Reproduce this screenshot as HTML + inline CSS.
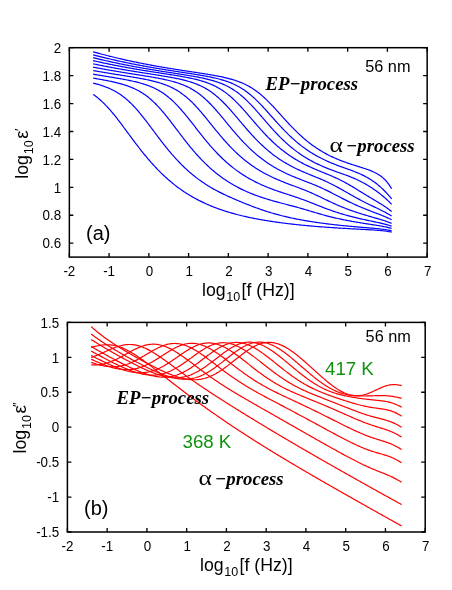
<!DOCTYPE html>
<html><head><meta charset="utf-8"><title>fig</title>
<style>
html,body{margin:0;padding:0;background:#fff;}
svg{display:block}
.tx{filter:opacity(1)}
text{font-family:"Liberation Sans",sans-serif;fill:#000}
.t{font-size:14.4px}
.l{font-size:16px}
.s{font-size:12.8px}
.bi{font-family:"Liberation Serif",serif;font-weight:bold;font-style:italic;font-size:18.75px}
.al{font-family:"Liberation Serif",serif;font-size:20px}
.g{fill:#109410;font-size:18.7px}
.ca{fill:none;stroke:#0000ff;stroke-width:1.2}
.cb{fill:none;stroke:#ff0000;stroke-width:1.2}
</style></head><body>
<svg width="452" height="590" viewBox="0 0 452 590">
<rect width="452" height="590" fill="#fff"/>
<g class="ca"><path d="M93.10,51.80 L94.10,52.08 L95.10,52.36 L96.09,52.63 L97.09,52.90 L98.09,53.18 L99.09,53.45 L100.09,53.71 L101.09,53.98 L102.09,54.24 L103.08,54.51 L104.08,54.77 L105.08,55.03 L106.08,55.28 L107.08,55.54 L108.08,55.79 L109.08,56.05 L110.07,56.30 L111.07,56.54 L112.07,56.79 L113.07,57.04 L114.07,57.28 L115.07,57.52 L116.06,57.76 L117.06,58.00 L118.06,58.24 L119.06,58.47 L120.06,58.70 L121.06,58.94 L122.06,59.16 L123.05,59.39 L124.05,59.62 L125.05,59.84 L126.05,60.07 L127.05,60.29 L128.05,60.51 L129.05,60.73 L130.04,60.94 L131.04,61.16 L132.04,61.37 L133.04,61.58 L134.04,61.80 L135.04,62.00 L136.03,62.21 L137.03,62.42 L138.03,62.62 L139.03,62.82 L140.03,63.03 L141.03,63.23 L142.03,63.42 L143.02,63.62 L144.02,63.82 L145.02,64.01 L146.02,64.20 L147.02,64.39 L148.02,64.58 L149.02,64.77 L150.01,64.96 L151.01,65.15 L152.01,65.33 L153.01,65.51 L154.01,65.69 L155.01,65.87 L156.00,66.05 L157.00,66.23 L158.00,66.41 L159.00,66.58 L160.00,66.76 L161.00,66.93 L162.00,67.10 L162.99,67.27 L163.99,67.44 L164.99,67.61 L165.99,67.78 L166.99,67.95 L167.99,68.11 L168.98,68.28 L169.98,68.44 L170.98,68.60 L171.98,68.76 L172.98,68.92 L173.98,69.08 L174.98,69.24 L175.97,69.40 L176.97,69.56 L177.97,69.71 L178.97,69.87 L179.97,70.03 L180.97,70.18 L181.97,70.33 L182.96,70.49 L183.96,70.64 L184.96,70.79 L185.96,70.95 L186.96,71.10 L187.96,71.25 L188.95,71.40 L189.95,71.55 L190.95,71.70 L191.95,71.85 L192.95,72.01 L193.95,72.16 L194.95,72.31 L195.94,72.46 L196.94,72.61 L197.94,72.76 L198.94,72.92 L199.94,73.07 L200.94,73.23 L201.94,73.38 L202.93,73.54 L203.93,73.69 L204.93,73.85 L205.93,74.01 L206.93,74.17 L207.93,74.34 L208.92,74.50 L209.92,74.67 L210.92,74.84 L211.92,75.01 L212.92,75.19 L213.92,75.36 L214.92,75.54 L215.91,75.73 L216.91,75.91 L217.91,76.11 L218.91,76.30 L219.91,76.50 L220.91,76.70 L221.91,76.91 L222.90,77.13 L223.90,77.35 L224.90,77.58 L225.90,77.81 L226.90,78.05 L227.90,78.30 L228.89,78.56 L229.89,78.82 L230.89,79.10 L231.89,79.38 L232.89,79.68 L233.89,79.98 L234.89,80.30 L235.88,80.63 L236.88,80.97 L237.88,81.32 L238.88,81.69 L239.88,82.08 L240.88,82.47 L241.88,82.89 L242.87,83.32 L243.87,83.77 L244.87,84.24 L245.87,84.73 L246.87,85.23 L247.87,85.76 L248.86,86.31 L249.86,86.87 L250.86,87.47 L251.86,88.08 L252.86,88.72 L253.86,89.38 L254.86,90.06 L255.85,90.77 L256.85,91.50 L257.85,92.25 L258.85,93.03 L259.85,93.84 L260.85,94.66 L261.85,95.51 L262.84,96.39 L263.84,97.28 L264.84,98.20 L265.84,99.14 L266.84,100.10 L267.84,101.08 L268.83,102.07 L269.83,103.09 L270.83,104.11 L271.83,105.16 L272.83,106.21 L273.83,107.28 L274.83,108.36 L275.82,109.45 L276.82,110.54 L277.82,111.64 L278.82,112.74 L279.82,113.85 L280.82,114.96 L281.82,116.07 L282.81,117.18 L283.81,118.28 L284.81,119.38 L285.81,120.48 L286.81,121.57 L287.81,122.65 L288.80,123.72 L289.80,124.79 L290.80,125.84 L291.80,126.88 L292.80,127.91 L293.80,128.93 L294.80,129.94 L295.79,130.93 L296.79,131.91 L297.79,132.87 L298.79,133.82 L299.79,134.75 L300.79,135.67 L301.79,136.57 L302.78,137.46 L303.78,138.33 L304.78,139.19 L305.78,140.02 L306.78,140.85 L307.78,141.65 L308.77,142.44 L309.77,143.22 L310.77,143.98 L311.77,144.72 L312.77,145.45 L313.77,146.16 L314.77,146.86 L315.76,147.54 L316.76,148.21 L317.76,148.86 L318.76,149.50 L319.76,150.13 L320.76,150.74 L321.76,151.34 L322.75,151.93 L323.75,152.50 L324.75,153.06 L325.75,153.61 L326.75,154.14 L327.75,154.66 L328.74,155.18 L329.74,155.68 L330.74,156.17 L331.74,156.65 L332.74,157.11 L333.74,157.57 L334.74,158.02 L335.73,158.46 L336.73,158.89 L337.73,159.31 L338.73,159.72 L339.73,160.12 L340.73,160.52 L341.73,160.90 L342.72,161.28 L343.72,161.66 L344.72,162.02 L345.72,162.38 L346.72,162.73 L347.72,163.08 L348.71,163.42 L349.71,163.75 L350.71,164.09 L351.71,164.41 L352.71,164.73 L353.71,165.05 L354.71,165.37 L355.70,165.68 L356.70,166.00 L357.70,166.31 L358.70,166.62 L359.70,166.93 L360.70,167.24 L361.70,167.56 L362.69,167.88 L363.69,168.20 L364.69,168.53 L365.69,168.86 L366.69,169.20 L367.69,169.55 L368.68,169.92 L369.68,170.29 L370.68,170.68 L371.68,171.09 L372.68,171.52 L373.68,171.97 L374.68,172.44 L375.67,172.95 L376.67,173.48 L377.67,174.05 L378.67,174.66 L379.67,175.32 L380.67,176.02 L381.67,176.78 L382.66,177.60 L383.66,178.48 L384.66,179.44 L385.66,180.48 L386.66,181.60 L387.66,182.81 L388.65,184.12 L389.65,185.55 L390.65,187.09 L391.65,188.75"/>
<path d="M93.10,54.79 L94.10,55.05 L95.10,55.32 L96.09,55.58 L97.09,55.83 L98.09,56.09 L99.09,56.34 L100.09,56.60 L101.09,56.85 L102.09,57.09 L103.08,57.34 L104.08,57.59 L105.08,57.83 L106.08,58.07 L107.08,58.31 L108.08,58.55 L109.08,58.79 L110.07,59.02 L111.07,59.26 L112.07,59.49 L113.07,59.72 L114.07,59.95 L115.07,60.17 L116.06,60.40 L117.06,60.62 L118.06,60.84 L119.06,61.06 L120.06,61.28 L121.06,61.50 L122.06,61.72 L123.05,61.93 L124.05,62.14 L125.05,62.35 L126.05,62.56 L127.05,62.77 L128.05,62.98 L129.05,63.18 L130.04,63.38 L131.04,63.59 L132.04,63.79 L133.04,63.98 L134.04,64.18 L135.04,64.38 L136.03,64.57 L137.03,64.76 L138.03,64.96 L139.03,65.15 L140.03,65.34 L141.03,65.52 L142.03,65.71 L143.02,65.89 L144.02,66.08 L145.02,66.26 L146.02,66.44 L147.02,66.62 L148.02,66.80 L149.02,66.98 L150.01,67.15 L151.01,67.33 L152.01,67.50 L153.01,67.67 L154.01,67.84 L155.01,68.01 L156.00,68.18 L157.00,68.35 L158.00,68.52 L159.00,68.68 L160.00,68.85 L161.00,69.01 L162.00,69.17 L162.99,69.34 L163.99,69.50 L164.99,69.66 L165.99,69.82 L166.99,69.98 L167.99,70.14 L168.98,70.29 L169.98,70.45 L170.98,70.61 L171.98,70.76 L172.98,70.92 L173.98,71.07 L174.98,71.22 L175.97,71.38 L176.97,71.53 L177.97,71.68 L178.97,71.84 L179.97,71.99 L180.97,72.14 L181.97,72.29 L182.96,72.45 L183.96,72.60 L184.96,72.75 L185.96,72.90 L186.96,73.06 L187.96,73.21 L188.95,73.36 L189.95,73.52 L190.95,73.67 L191.95,73.83 L192.95,73.99 L193.95,74.15 L194.95,74.31 L195.94,74.47 L196.94,74.63 L197.94,74.79 L198.94,74.96 L199.94,75.13 L200.94,75.30 L201.94,75.47 L202.93,75.64 L203.93,75.82 L204.93,76.00 L205.93,76.19 L206.93,76.38 L207.93,76.57 L208.92,76.76 L209.92,76.96 L210.92,77.17 L211.92,77.38 L212.92,77.59 L213.92,77.81 L214.92,78.04 L215.91,78.28 L216.91,78.52 L217.91,78.76 L218.91,79.02 L219.91,79.29 L220.91,79.56 L221.91,79.84 L222.90,80.14 L223.90,80.44 L224.90,80.76 L225.90,81.09 L226.90,81.43 L227.90,81.78 L228.89,82.15 L229.89,82.53 L230.89,82.93 L231.89,83.34 L232.89,83.77 L233.89,84.22 L234.89,84.69 L235.88,85.18 L236.88,85.68 L237.88,86.21 L238.88,86.75 L239.88,87.32 L240.88,87.91 L241.88,88.52 L242.87,89.16 L243.87,89.82 L244.87,90.50 L245.87,91.21 L246.87,91.94 L247.87,92.70 L248.86,93.48 L249.86,94.29 L250.86,95.12 L251.86,95.97 L252.86,96.85 L253.86,97.75 L254.86,98.67 L255.85,99.62 L256.85,100.58 L257.85,101.57 L258.85,102.57 L259.85,103.59 L260.85,104.63 L261.85,105.68 L262.84,106.75 L263.84,107.83 L264.84,108.92 L265.84,110.02 L266.84,111.13 L267.84,112.24 L268.83,113.36 L269.83,114.49 L270.83,115.61 L271.83,116.74 L272.83,117.87 L273.83,118.99 L274.83,120.11 L275.82,121.23 L276.82,122.34 L277.82,123.45 L278.82,124.54 L279.82,125.63 L280.82,126.71 L281.82,127.78 L282.81,128.83 L283.81,129.88 L284.81,130.91 L285.81,131.93 L286.81,132.93 L287.81,133.92 L288.80,134.90 L289.80,135.86 L290.80,136.80 L291.80,137.73 L292.80,138.64 L293.80,139.54 L294.80,140.42 L295.79,141.29 L296.79,142.14 L297.79,142.97 L298.79,143.79 L299.79,144.59 L300.79,145.37 L301.79,146.14 L302.78,146.90 L303.78,147.64 L304.78,148.36 L305.78,149.07 L306.78,149.76 L307.78,150.44 L308.77,151.11 L309.77,151.76 L310.77,152.40 L311.77,153.02 L312.77,153.63 L313.77,154.23 L314.77,154.81 L315.76,155.39 L316.76,155.95 L317.76,156.49 L318.76,157.03 L319.76,157.56 L320.76,158.07 L321.76,158.58 L322.75,159.07 L323.75,159.55 L324.75,160.03 L325.75,160.49 L326.75,160.95 L327.75,161.39 L328.74,161.83 L329.74,162.26 L330.74,162.68 L331.74,163.10 L332.74,163.51 L333.74,163.91 L334.74,164.30 L335.73,164.69 L336.73,165.08 L337.73,165.46 L338.73,165.83 L339.73,166.20 L340.73,166.57 L341.73,166.93 L342.72,167.30 L343.72,167.66 L344.72,168.02 L345.72,168.37 L346.72,168.73 L347.72,169.09 L348.71,169.45 L349.71,169.81 L350.71,170.18 L351.71,170.55 L352.71,170.92 L353.71,171.30 L354.71,171.69 L355.70,172.09 L356.70,172.49 L357.70,172.90 L358.70,173.32 L359.70,173.76 L360.70,174.21 L361.70,174.67 L362.69,175.14 L363.69,175.64 L364.69,176.14 L365.69,176.67 L366.69,177.22 L367.69,177.78 L368.68,178.36 L369.68,178.97 L370.68,179.59 L371.68,180.24 L372.68,180.92 L373.68,181.61 L374.68,182.33 L375.67,183.07 L376.67,183.84 L377.67,184.63 L378.67,185.45 L379.67,186.30 L380.67,187.17 L381.67,188.08 L382.66,189.01 L383.66,189.97 L384.66,190.97 L385.66,191.99 L386.66,193.06 L387.66,194.16 L388.65,195.30 L389.65,196.48 L390.65,197.71 L391.65,198.99"/>
<path d="M93.10,57.63 L94.10,57.88 L95.10,58.13 L96.09,58.37 L97.09,58.62 L98.09,58.86 L99.09,59.10 L100.09,59.34 L101.09,59.58 L102.09,59.82 L103.08,60.05 L104.08,60.28 L105.08,60.51 L106.08,60.74 L107.08,60.97 L108.08,61.20 L109.08,61.42 L110.07,61.65 L111.07,61.87 L112.07,62.09 L113.07,62.30 L114.07,62.52 L115.07,62.74 L116.06,62.95 L117.06,63.16 L118.06,63.37 L119.06,63.58 L120.06,63.79 L121.06,63.99 L122.06,64.20 L123.05,64.40 L124.05,64.60 L125.05,64.80 L126.05,65.00 L127.05,65.20 L128.05,65.39 L129.05,65.59 L130.04,65.78 L131.04,65.97 L132.04,66.16 L133.04,66.35 L134.04,66.54 L135.04,66.72 L136.03,66.91 L137.03,67.09 L138.03,67.27 L139.03,67.45 L140.03,67.63 L141.03,67.81 L142.03,67.99 L143.02,68.16 L144.02,68.34 L145.02,68.51 L146.02,68.68 L147.02,68.85 L148.02,69.02 L149.02,69.19 L150.01,69.36 L151.01,69.53 L152.01,69.69 L153.01,69.86 L154.01,70.02 L155.01,70.19 L156.00,70.35 L157.00,70.51 L158.00,70.67 L159.00,70.83 L160.00,70.99 L161.00,71.15 L162.00,71.31 L162.99,71.47 L163.99,71.62 L164.99,71.78 L165.99,71.94 L166.99,72.09 L167.99,72.25 L168.98,72.40 L169.98,72.56 L170.98,72.71 L171.98,72.86 L172.98,73.02 L173.98,73.17 L174.98,73.33 L175.97,73.48 L176.97,73.64 L177.97,73.79 L178.97,73.95 L179.97,74.10 L180.97,74.26 L181.97,74.42 L182.96,74.57 L183.96,74.73 L184.96,74.89 L185.96,75.06 L186.96,75.22 L187.96,75.38 L188.95,75.55 L189.95,75.72 L190.95,75.89 L191.95,76.06 L192.95,76.23 L193.95,76.41 L194.95,76.59 L195.94,76.77 L196.94,76.96 L197.94,77.15 L198.94,77.34 L199.94,77.54 L200.94,77.74 L201.94,77.94 L202.93,78.16 L203.93,78.37 L204.93,78.60 L205.93,78.83 L206.93,79.06 L207.93,79.30 L208.92,79.55 L209.92,79.81 L210.92,80.08 L211.92,80.36 L212.92,80.64 L213.92,80.94 L214.92,81.24 L215.91,81.56 L216.91,81.89 L217.91,82.23 L218.91,82.59 L219.91,82.96 L220.91,83.34 L221.91,83.74 L222.90,84.16 L223.90,84.59 L224.90,85.05 L225.90,85.51 L226.90,86.00 L227.90,86.51 L228.89,87.04 L229.89,87.59 L230.89,88.16 L231.89,88.76 L232.89,89.38 L233.89,90.02 L234.89,90.68 L235.88,91.37 L236.88,92.09 L237.88,92.83 L238.88,93.59 L239.88,94.38 L240.88,95.20 L241.88,96.03 L242.87,96.90 L243.87,97.79 L244.87,98.70 L245.87,99.63 L246.87,100.59 L247.87,101.57 L248.86,102.57 L249.86,103.59 L250.86,104.63 L251.86,105.69 L252.86,106.76 L253.86,107.85 L254.86,108.95 L255.85,110.06 L256.85,111.19 L257.85,112.32 L258.85,113.46 L259.85,114.61 L260.85,115.76 L261.85,116.91 L262.84,118.07 L263.84,119.23 L264.84,120.38 L265.84,121.54 L266.84,122.69 L267.84,123.83 L268.83,124.97 L269.83,126.10 L270.83,127.23 L271.83,128.34 L272.83,129.44 L273.83,130.54 L274.83,131.62 L275.82,132.69 L276.82,133.74 L277.82,134.78 L278.82,135.81 L279.82,136.83 L280.82,137.82 L281.82,138.81 L282.81,139.77 L283.81,140.73 L284.81,141.66 L285.81,142.58 L286.81,143.48 L287.81,144.37 L288.80,145.24 L289.80,146.10 L290.80,146.94 L291.80,147.76 L292.80,148.57 L293.80,149.36 L294.80,150.13 L295.79,150.89 L296.79,151.63 L297.79,152.36 L298.79,153.08 L299.79,153.78 L300.79,154.46 L301.79,155.13 L302.78,155.79 L303.78,156.43 L304.78,157.06 L305.78,157.68 L306.78,158.28 L307.78,158.87 L308.77,159.45 L309.77,160.02 L310.77,160.57 L311.77,161.11 L312.77,161.64 L313.77,162.16 L314.77,162.67 L315.76,163.17 L316.76,163.66 L317.76,164.14 L318.76,164.61 L319.76,165.07 L320.76,165.52 L321.76,165.97 L322.75,166.40 L323.75,166.83 L324.75,167.25 L325.75,167.66 L326.75,168.07 L327.75,168.47 L328.74,168.86 L329.74,169.25 L330.74,169.63 L331.74,170.01 L332.74,170.38 L333.74,170.75 L334.74,171.12 L335.73,171.48 L336.73,171.84 L337.73,172.20 L338.73,172.55 L339.73,172.91 L340.73,173.27 L341.73,173.62 L342.72,173.98 L343.72,174.34 L344.72,174.70 L345.72,175.06 L346.72,175.43 L347.72,175.80 L348.71,176.18 L349.71,176.57 L350.71,176.96 L351.71,177.36 L352.71,177.77 L353.71,178.18 L354.71,178.61 L355.70,179.05 L356.70,179.50 L357.70,179.96 L358.70,180.43 L359.70,180.92 L360.70,181.42 L361.70,181.94 L362.69,182.46 L363.69,183.01 L364.69,183.56 L365.69,184.13 L366.69,184.72 L367.69,185.32 L368.68,185.93 L369.68,186.56 L370.68,187.20 L371.68,187.86 L372.68,188.53 L373.68,189.21 L374.68,189.90 L375.67,190.61 L376.67,191.33 L377.67,192.07 L378.67,192.82 L379.67,193.59 L380.67,194.37 L381.67,195.16 L382.66,195.98 L383.66,196.81 L384.66,197.66 L385.66,198.54 L386.66,199.44 L387.66,200.36 L388.65,201.32 L389.65,202.30 L390.65,203.32 L391.65,204.37"/>
<path d="M93.10,60.59 L94.10,60.82 L95.10,61.05 L96.09,61.28 L97.09,61.51 L98.09,61.73 L99.09,61.95 L100.09,62.17 L101.09,62.39 L102.09,62.61 L103.08,62.82 L104.08,63.04 L105.08,63.25 L106.08,63.46 L107.08,63.67 L108.08,63.88 L109.08,64.09 L110.07,64.29 L111.07,64.50 L112.07,64.70 L113.07,64.90 L114.07,65.10 L115.07,65.30 L116.06,65.49 L117.06,65.69 L118.06,65.88 L119.06,66.07 L120.06,66.26 L121.06,66.45 L122.06,66.64 L123.05,66.83 L124.05,67.01 L125.05,67.20 L126.05,67.38 L127.05,67.56 L128.05,67.74 L129.05,67.92 L130.04,68.10 L131.04,68.28 L132.04,68.45 L133.04,68.63 L134.04,68.80 L135.04,68.97 L136.03,69.14 L137.03,69.31 L138.03,69.48 L139.03,69.65 L140.03,69.82 L141.03,69.98 L142.03,70.15 L143.02,70.31 L144.02,70.47 L145.02,70.64 L146.02,70.80 L147.02,70.96 L148.02,71.12 L149.02,71.28 L150.01,71.44 L151.01,71.60 L152.01,71.75 L153.01,71.91 L154.01,72.07 L155.01,72.22 L156.00,72.38 L157.00,72.53 L158.00,72.69 L159.00,72.84 L160.00,73.00 L161.00,73.15 L162.00,73.31 L162.99,73.46 L163.99,73.62 L164.99,73.77 L165.99,73.93 L166.99,74.08 L167.99,74.24 L168.98,74.40 L169.98,74.56 L170.98,74.71 L171.98,74.87 L172.98,75.03 L173.98,75.19 L174.98,75.36 L175.97,75.52 L176.97,75.69 L177.97,75.85 L178.97,76.02 L179.97,76.20 L180.97,76.37 L181.97,76.55 L182.96,76.73 L183.96,76.91 L184.96,77.09 L185.96,77.28 L186.96,77.48 L187.96,77.67 L188.95,77.87 L189.95,78.08 L190.95,78.29 L191.95,78.51 L192.95,78.73 L193.95,78.96 L194.95,79.19 L195.94,79.43 L196.94,79.68 L197.94,79.94 L198.94,80.20 L199.94,80.48 L200.94,80.76 L201.94,81.05 L202.93,81.36 L203.93,81.67 L204.93,82.00 L205.93,82.34 L206.93,82.69 L207.93,83.06 L208.92,83.44 L209.92,83.84 L210.92,84.25 L211.92,84.68 L212.92,85.13 L213.92,85.59 L214.92,86.08 L215.91,86.58 L216.91,87.11 L217.91,87.65 L218.91,88.22 L219.91,88.81 L220.91,89.43 L221.91,90.06 L222.90,90.72 L223.90,91.41 L224.90,92.12 L225.90,92.85 L226.90,93.61 L227.90,94.40 L228.89,95.21 L229.89,96.04 L230.89,96.90 L231.89,97.79 L232.89,98.70 L233.89,99.63 L234.89,100.59 L235.88,101.56 L236.88,102.56 L237.88,103.58 L238.88,104.62 L239.88,105.68 L240.88,106.75 L241.88,107.84 L242.87,108.94 L243.87,110.06 L244.87,111.19 L245.87,112.32 L246.87,113.47 L247.87,114.62 L248.86,115.78 L249.86,116.94 L250.86,118.10 L251.86,119.27 L252.86,120.43 L253.86,121.60 L254.86,122.75 L255.85,123.91 L256.85,125.06 L257.85,126.20 L258.85,127.33 L259.85,128.46 L260.85,129.58 L261.85,130.68 L262.84,131.77 L263.84,132.85 L264.84,133.92 L265.84,134.98 L266.84,136.02 L267.84,137.05 L268.83,138.06 L269.83,139.05 L270.83,140.04 L271.83,141.00 L272.83,141.95 L273.83,142.88 L274.83,143.80 L275.82,144.70 L276.82,145.59 L277.82,146.46 L278.82,147.31 L279.82,148.15 L280.82,148.97 L281.82,149.77 L282.81,150.56 L283.81,151.34 L284.81,152.09 L285.81,152.84 L286.81,153.57 L287.81,154.28 L288.80,154.98 L289.80,155.66 L290.80,156.33 L291.80,156.99 L292.80,157.63 L293.80,158.26 L294.80,158.88 L295.79,159.49 L296.79,160.08 L297.79,160.66 L298.79,161.23 L299.79,161.79 L300.79,162.33 L301.79,162.87 L302.78,163.40 L303.78,163.91 L304.78,164.42 L305.78,164.92 L306.78,165.40 L307.78,165.88 L308.77,166.35 L309.77,166.82 L310.77,167.27 L311.77,167.72 L312.77,168.17 L313.77,168.60 L314.77,169.04 L315.76,169.46 L316.76,169.88 L317.76,170.30 L318.76,170.72 L319.76,171.13 L320.76,171.54 L321.76,171.94 L322.75,172.35 L323.75,172.76 L324.75,173.16 L325.75,173.57 L326.75,173.98 L327.75,174.39 L328.74,174.80 L329.74,175.22 L330.74,175.64 L331.74,176.07 L332.74,176.50 L333.74,176.94 L334.74,177.39 L335.73,177.84 L336.73,178.30 L337.73,178.77 L338.73,179.25 L339.73,179.74 L340.73,180.24 L341.73,180.75 L342.72,181.26 L343.72,181.79 L344.72,182.32 L345.72,182.87 L346.72,183.42 L347.72,183.98 L348.71,184.55 L349.71,185.13 L350.71,185.71 L351.71,186.30 L352.71,186.89 L353.71,187.49 L354.71,188.10 L355.70,188.70 L356.70,189.31 L357.70,189.92 L358.70,190.53 L359.70,191.14 L360.70,191.76 L361.70,192.37 L362.69,192.98 L363.69,193.59 L364.69,194.20 L365.69,194.81 L366.69,195.41 L367.69,196.02 L368.68,196.62 L369.68,197.22 L370.68,197.82 L371.68,198.42 L372.68,199.02 L373.68,199.62 L374.68,200.22 L375.67,200.82 L376.67,201.42 L377.67,202.02 L378.67,202.63 L379.67,203.24 L380.67,203.86 L381.67,204.48 L382.66,205.11 L383.66,205.75 L384.66,206.40 L385.66,207.07 L386.66,207.75 L387.66,208.45 L388.65,209.17 L389.65,209.91 L390.65,210.67 L391.65,211.47"/>
<path d="M93.10,63.80 L94.10,64.01 L95.10,64.23 L96.09,64.43 L97.09,64.64 L98.09,64.85 L99.09,65.05 L100.09,65.25 L101.09,65.46 L102.09,65.66 L103.08,65.85 L104.08,66.05 L105.08,66.25 L106.08,66.44 L107.08,66.63 L108.08,66.82 L109.08,67.01 L110.07,67.20 L111.07,67.39 L112.07,67.58 L113.07,67.76 L114.07,67.94 L115.07,68.13 L116.06,68.31 L117.06,68.49 L118.06,68.67 L119.06,68.84 L120.06,69.02 L121.06,69.19 L122.06,69.37 L123.05,69.54 L124.05,69.71 L125.05,69.88 L126.05,70.05 L127.05,70.22 L128.05,70.39 L129.05,70.56 L130.04,70.72 L131.04,70.89 L132.04,71.05 L133.04,71.21 L134.04,71.38 L135.04,71.54 L136.03,71.70 L137.03,71.86 L138.03,72.02 L139.03,72.18 L140.03,72.34 L141.03,72.49 L142.03,72.65 L143.02,72.81 L144.02,72.97 L145.02,73.12 L146.02,73.28 L147.02,73.44 L148.02,73.59 L149.02,73.75 L150.01,73.90 L151.01,74.06 L152.01,74.22 L153.01,74.37 L154.01,74.53 L155.01,74.69 L156.00,74.84 L157.00,75.00 L158.00,75.16 L159.00,75.32 L160.00,75.48 L161.00,75.65 L162.00,75.81 L162.99,75.97 L163.99,76.14 L164.99,76.31 L165.99,76.48 L166.99,76.65 L167.99,76.83 L168.98,77.00 L169.98,77.18 L170.98,77.37 L171.98,77.55 L172.98,77.74 L173.98,77.93 L174.98,78.13 L175.97,78.33 L176.97,78.54 L177.97,78.75 L178.97,78.96 L179.97,79.18 L180.97,79.41 L181.97,79.65 L182.96,79.89 L183.96,80.13 L184.96,80.39 L185.96,80.65 L186.96,80.93 L187.96,81.21 L188.95,81.50 L189.95,81.80 L190.95,82.12 L191.95,82.44 L192.95,82.78 L193.95,83.13 L194.95,83.50 L195.94,83.87 L196.94,84.27 L197.94,84.68 L198.94,85.11 L199.94,85.55 L200.94,86.01 L201.94,86.49 L202.93,87.00 L203.93,87.52 L204.93,88.06 L205.93,88.62 L206.93,89.21 L207.93,89.82 L208.92,90.46 L209.92,91.11 L210.92,91.80 L211.92,92.50 L212.92,93.24 L213.92,93.99 L214.92,94.78 L215.91,95.59 L216.91,96.42 L217.91,97.28 L218.91,98.17 L219.91,99.08 L220.91,100.01 L221.91,100.97 L222.90,101.95 L223.90,102.96 L224.90,103.98 L225.90,105.03 L226.90,106.09 L227.90,107.17 L228.89,108.27 L229.89,109.38 L230.89,110.51 L231.89,111.65 L232.89,112.80 L233.89,113.96 L234.89,115.13 L235.88,116.30 L236.88,117.48 L237.88,118.67 L238.88,119.85 L239.88,121.04 L240.88,122.22 L241.88,123.40 L242.87,124.58 L243.87,125.76 L244.87,126.92 L245.87,128.09 L246.87,129.24 L247.87,130.38 L248.86,131.51 L249.86,132.64 L250.86,133.75 L251.86,134.84 L252.86,135.93 L253.86,137.00 L254.86,138.06 L255.85,139.10 L256.85,140.13 L257.85,141.14 L258.85,142.14 L259.85,143.12 L260.85,144.08 L261.85,145.03 L262.84,145.96 L263.84,146.88 L264.84,147.78 L265.84,148.66 L266.84,149.53 L267.84,150.38 L268.83,151.22 L269.83,152.04 L270.83,152.84 L271.83,153.63 L272.83,154.40 L273.83,155.16 L274.83,155.90 L275.82,156.63 L276.82,157.34 L277.82,158.04 L278.82,158.72 L279.82,159.39 L280.82,160.05 L281.82,160.69 L282.81,161.32 L283.81,161.94 L284.81,162.54 L285.81,163.13 L286.81,163.72 L287.81,164.29 L288.80,164.84 L289.80,165.39 L290.80,165.93 L291.80,166.45 L292.80,166.97 L293.80,167.48 L294.80,167.97 L295.79,168.46 L296.79,168.94 L297.79,169.42 L298.79,169.88 L299.79,170.34 L300.79,170.79 L301.79,171.23 L302.78,171.67 L303.78,172.10 L304.78,172.53 L305.78,172.95 L306.78,173.37 L307.78,173.78 L308.77,174.19 L309.77,174.60 L310.77,175.01 L311.77,175.41 L312.77,175.82 L313.77,176.22 L314.77,176.63 L315.76,177.03 L316.76,177.44 L317.76,177.85 L318.76,178.27 L319.76,178.68 L320.76,179.11 L321.76,179.53 L322.75,179.97 L323.75,180.40 L324.75,180.85 L325.75,181.30 L326.75,181.76 L327.75,182.23 L328.74,182.71 L329.74,183.19 L330.74,183.68 L331.74,184.18 L332.74,184.69 L333.74,185.21 L334.74,185.73 L335.73,186.26 L336.73,186.80 L337.73,187.35 L338.73,187.90 L339.73,188.45 L340.73,189.01 L341.73,189.57 L342.72,190.14 L343.72,190.71 L344.72,191.28 L345.72,191.85 L346.72,192.42 L347.72,192.99 L348.71,193.56 L349.71,194.13 L350.71,194.69 L351.71,195.26 L352.71,195.82 L353.71,196.38 L354.71,196.93 L355.70,197.48 L356.70,198.02 L357.70,198.56 L358.70,199.10 L359.70,199.63 L360.70,200.16 L361.70,200.68 L362.69,201.19 L363.69,201.71 L364.69,202.21 L365.69,202.72 L366.69,203.22 L367.69,203.71 L368.68,204.20 L369.68,204.69 L370.68,205.18 L371.68,205.66 L372.68,206.14 L373.68,206.62 L374.68,207.10 L375.67,207.58 L376.67,208.06 L377.67,208.54 L378.67,209.02 L379.67,209.50 L380.67,209.99 L381.67,210.49 L382.66,210.99 L383.66,211.50 L384.66,212.02 L385.66,212.55 L386.66,213.10 L387.66,213.65 L388.65,214.23 L389.65,214.83 L390.65,215.45 L391.65,216.09"/>
<path d="M93.10,67.12 L94.10,67.31 L95.10,67.51 L96.09,67.70 L97.09,67.89 L98.09,68.08 L99.09,68.26 L100.09,68.45 L101.09,68.63 L102.09,68.82 L103.08,69.00 L104.08,69.18 L105.08,69.36 L106.08,69.54 L107.08,69.72 L108.08,69.89 L109.08,70.07 L110.07,70.24 L111.07,70.42 L112.07,70.59 L113.07,70.76 L114.07,70.93 L115.07,71.10 L116.06,71.26 L117.06,71.43 L118.06,71.60 L119.06,71.76 L120.06,71.93 L121.06,72.09 L122.06,72.25 L123.05,72.42 L124.05,72.58 L125.05,72.74 L126.05,72.90 L127.05,73.06 L128.05,73.22 L129.05,73.38 L130.04,73.54 L131.04,73.70 L132.04,73.85 L133.04,74.01 L134.04,74.17 L135.04,74.33 L136.03,74.48 L137.03,74.64 L138.03,74.80 L139.03,74.96 L140.03,75.12 L141.03,75.28 L142.03,75.43 L143.02,75.59 L144.02,75.76 L145.02,75.92 L146.02,76.08 L147.02,76.24 L148.02,76.41 L149.02,76.57 L150.01,76.74 L151.01,76.91 L152.01,77.08 L153.01,77.26 L154.01,77.43 L155.01,77.61 L156.00,77.79 L157.00,77.97 L158.00,78.16 L159.00,78.35 L160.00,78.54 L161.00,78.74 L162.00,78.94 L162.99,79.14 L163.99,79.36 L164.99,79.57 L165.99,79.79 L166.99,80.02 L167.99,80.25 L168.98,80.49 L169.98,80.74 L170.98,80.99 L171.98,81.26 L172.98,81.53 L173.98,81.81 L174.98,82.10 L175.97,82.40 L176.97,82.71 L177.97,83.04 L178.97,83.37 L179.97,83.72 L180.97,84.08 L181.97,84.46 L182.96,84.85 L183.96,85.26 L184.96,85.68 L185.96,86.12 L186.96,86.58 L187.96,87.06 L188.95,87.56 L189.95,88.08 L190.95,88.61 L191.95,89.18 L192.95,89.76 L193.95,90.37 L194.95,91.00 L195.94,91.65 L196.94,92.33 L197.94,93.04 L198.94,93.77 L199.94,94.52 L200.94,95.31 L201.94,96.11 L202.93,96.95 L203.93,97.81 L204.93,98.70 L205.93,99.61 L206.93,100.55 L207.93,101.51 L208.92,102.50 L209.92,103.51 L210.92,104.54 L211.92,105.59 L212.92,106.67 L213.92,107.76 L214.92,108.87 L215.91,110.00 L216.91,111.14 L217.91,112.30 L218.91,113.47 L219.91,114.65 L220.91,115.84 L221.91,117.03 L222.90,118.24 L223.90,119.44 L224.90,120.66 L225.90,121.87 L226.90,123.08 L227.90,124.30 L228.89,125.51 L229.89,126.71 L230.89,127.91 L231.89,129.11 L232.89,130.30 L233.89,131.48 L234.89,132.65 L235.88,133.81 L236.88,134.96 L237.88,136.09 L238.88,137.22 L239.88,138.33 L240.88,139.43 L241.88,140.51 L242.87,141.58 L243.87,142.63 L244.87,143.67 L245.87,144.69 L246.87,145.70 L247.87,146.69 L248.86,147.67 L249.86,148.62 L250.86,149.56 L251.86,150.49 L252.86,151.40 L253.86,152.29 L254.86,153.17 L255.85,154.03 L256.85,154.87 L257.85,155.70 L258.85,156.51 L259.85,157.30 L260.85,158.09 L261.85,158.85 L262.84,159.60 L263.84,160.34 L264.84,161.06 L265.84,161.76 L266.84,162.45 L267.84,163.13 L268.83,163.79 L269.83,164.45 L270.83,165.08 L271.83,165.71 L272.83,166.32 L273.83,166.92 L274.83,167.51 L275.82,168.08 L276.82,168.65 L277.82,169.20 L278.82,169.74 L279.82,170.27 L280.82,170.79 L281.82,171.31 L282.81,171.81 L283.81,172.30 L284.81,172.78 L285.81,173.26 L286.81,173.72 L287.81,174.18 L288.80,174.63 L289.80,175.07 L290.80,175.51 L291.80,175.94 L292.80,176.36 L293.80,176.77 L294.80,177.18 L295.79,177.59 L296.79,177.99 L297.79,178.39 L298.79,178.78 L299.79,179.17 L300.79,179.56 L301.79,179.95 L302.78,180.33 L303.78,180.71 L304.78,181.09 L305.78,181.47 L306.78,181.86 L307.78,182.24 L308.77,182.62 L309.77,183.01 L310.77,183.40 L311.77,183.80 L312.77,184.19 L313.77,184.60 L314.77,185.00 L315.76,185.42 L316.76,185.83 L317.76,186.26 L318.76,186.69 L319.76,187.13 L320.76,187.58 L321.76,188.03 L322.75,188.49 L323.75,188.96 L324.75,189.43 L325.75,189.91 L326.75,190.40 L327.75,190.89 L328.74,191.39 L329.74,191.89 L330.74,192.40 L331.74,192.91 L332.74,193.43 L333.74,193.95 L334.74,194.47 L335.73,194.99 L336.73,195.51 L337.73,196.03 L338.73,196.55 L339.73,197.07 L340.73,197.59 L341.73,198.10 L342.72,198.62 L343.72,199.12 L344.72,199.63 L345.72,200.13 L346.72,200.63 L347.72,201.12 L348.71,201.61 L349.71,202.09 L350.71,202.57 L351.71,203.04 L352.71,203.51 L353.71,203.97 L354.71,204.43 L355.70,204.88 L356.70,205.33 L357.70,205.77 L358.70,206.20 L359.70,206.63 L360.70,207.05 L361.70,207.47 L362.69,207.89 L363.69,208.30 L364.69,208.70 L365.69,209.11 L366.69,209.50 L367.69,209.90 L368.68,210.29 L369.68,210.68 L370.68,211.06 L371.68,211.45 L372.68,211.83 L373.68,212.21 L374.68,212.59 L375.67,212.97 L376.67,213.35 L377.67,213.73 L378.67,214.11 L379.67,214.50 L380.67,214.89 L381.67,215.29 L382.66,215.69 L383.66,216.10 L384.66,216.52 L385.66,216.95 L386.66,217.39 L387.66,217.84 L388.65,218.31 L389.65,218.80 L390.65,219.31 L391.65,219.84"/>
<path d="M93.10,70.57 L94.10,70.74 L95.10,70.92 L96.09,71.09 L97.09,71.26 L98.09,71.43 L99.09,71.61 L100.09,71.78 L101.09,71.94 L102.09,72.11 L103.08,72.28 L104.08,72.45 L105.08,72.61 L106.08,72.78 L107.08,72.94 L108.08,73.10 L109.08,73.27 L110.07,73.43 L111.07,73.59 L112.07,73.75 L113.07,73.91 L114.07,74.07 L115.07,74.23 L116.06,74.39 L117.06,74.55 L118.06,74.71 L119.06,74.87 L120.06,75.03 L121.06,75.19 L122.06,75.35 L123.05,75.51 L124.05,75.67 L125.05,75.83 L126.05,75.99 L127.05,76.15 L128.05,76.31 L129.05,76.47 L130.04,76.64 L131.04,76.80 L132.04,76.97 L133.04,77.14 L134.04,77.30 L135.04,77.47 L136.03,77.65 L137.03,77.82 L138.03,78.00 L139.03,78.18 L140.03,78.36 L141.03,78.54 L142.03,78.73 L143.02,78.92 L144.02,79.12 L145.02,79.31 L146.02,79.52 L147.02,79.72 L148.02,79.93 L149.02,80.15 L150.01,80.37 L151.01,80.60 L152.01,80.83 L153.01,81.08 L154.01,81.32 L155.01,81.58 L156.00,81.84 L157.00,82.12 L158.00,82.40 L159.00,82.69 L160.00,82.99 L161.00,83.30 L162.00,83.63 L162.99,83.96 L163.99,84.31 L164.99,84.68 L165.99,85.05 L166.99,85.45 L167.99,85.85 L168.98,86.28 L169.98,86.72 L170.98,87.18 L171.98,87.66 L172.98,88.16 L173.98,88.68 L174.98,89.22 L175.97,89.78 L176.97,90.37 L177.97,90.98 L178.97,91.61 L179.97,92.27 L180.97,92.95 L181.97,93.66 L182.96,94.39 L183.96,95.15 L184.96,95.94 L185.96,96.75 L186.96,97.59 L187.96,98.46 L188.95,99.36 L189.95,100.27 L190.95,101.22 L191.95,102.19 L192.95,103.19 L193.95,104.21 L194.95,105.25 L195.94,106.32 L196.94,107.40 L197.94,108.51 L198.94,109.63 L199.94,110.78 L200.94,111.94 L201.94,113.11 L202.93,114.30 L203.93,115.50 L204.93,116.71 L205.93,117.93 L206.93,119.15 L207.93,120.38 L208.92,121.62 L209.92,122.86 L210.92,124.10 L211.92,125.34 L212.92,126.57 L213.92,127.81 L214.92,129.04 L215.91,130.26 L216.91,131.48 L217.91,132.69 L218.91,133.89 L219.91,135.09 L220.91,136.27 L221.91,137.44 L222.90,138.60 L223.90,139.74 L224.90,140.87 L225.90,141.99 L226.90,143.09 L227.90,144.18 L228.89,145.26 L229.89,146.31 L230.89,147.36 L231.89,148.38 L232.89,149.39 L233.89,150.38 L234.89,151.36 L235.88,152.32 L236.88,153.26 L237.88,154.19 L238.88,155.10 L239.88,156.00 L240.88,156.87 L241.88,157.74 L242.87,158.58 L243.87,159.41 L244.87,160.22 L245.87,161.02 L246.87,161.80 L247.87,162.57 L248.86,163.32 L249.86,164.06 L250.86,164.78 L251.86,165.49 L252.86,166.19 L253.86,166.87 L254.86,167.53 L255.85,168.19 L256.85,168.83 L257.85,169.46 L258.85,170.07 L259.85,170.67 L260.85,171.26 L261.85,171.84 L262.84,172.41 L263.84,172.97 L264.84,173.51 L265.84,174.05 L266.84,174.57 L267.84,175.08 L268.83,175.59 L269.83,176.08 L270.83,176.57 L271.83,177.04 L272.83,177.51 L273.83,177.97 L274.83,178.42 L275.82,178.87 L276.82,179.30 L277.82,179.73 L278.82,180.15 L279.82,180.57 L280.82,180.98 L281.82,181.38 L282.81,181.78 L283.81,182.18 L284.81,182.57 L285.81,182.95 L286.81,183.33 L287.81,183.71 L288.80,184.09 L289.80,184.46 L290.80,184.83 L291.80,185.21 L292.80,185.58 L293.80,185.94 L294.80,186.31 L295.79,186.69 L296.79,187.06 L297.79,187.43 L298.79,187.81 L299.79,188.19 L300.79,188.57 L301.79,188.96 L302.78,189.35 L303.78,189.74 L304.78,190.15 L305.78,190.55 L306.78,190.96 L307.78,191.38 L308.77,191.80 L309.77,192.23 L310.77,192.67 L311.77,193.11 L312.77,193.56 L313.77,194.01 L314.77,194.46 L315.76,194.93 L316.76,195.39 L317.76,195.86 L318.76,196.33 L319.76,196.81 L320.76,197.28 L321.76,197.76 L322.75,198.24 L323.75,198.72 L324.75,199.20 L325.75,199.68 L326.75,200.15 L327.75,200.63 L328.74,201.10 L329.74,201.57 L330.74,202.03 L331.74,202.50 L332.74,202.96 L333.74,203.41 L334.74,203.86 L335.73,204.30 L336.73,204.74 L337.73,205.18 L338.73,205.61 L339.73,206.03 L340.73,206.45 L341.73,206.86 L342.72,207.27 L343.72,207.67 L344.72,208.06 L345.72,208.45 L346.72,208.84 L347.72,209.22 L348.71,209.59 L349.71,209.96 L350.71,210.32 L351.71,210.68 L352.71,211.03 L353.71,211.38 L354.71,211.72 L355.70,212.06 L356.70,212.39 L357.70,212.72 L358.70,213.04 L359.70,213.36 L360.70,213.68 L361.70,213.99 L362.69,214.30 L363.69,214.60 L364.69,214.91 L365.69,215.20 L366.69,215.50 L367.69,215.79 L368.68,216.08 L369.68,216.37 L370.68,216.66 L371.68,216.94 L372.68,217.23 L373.68,217.51 L374.68,217.80 L375.67,218.08 L376.67,218.37 L377.67,218.65 L378.67,218.94 L379.67,219.24 L380.67,219.54 L381.67,219.84 L382.66,220.15 L383.66,220.46 L384.66,220.79 L385.66,221.12 L386.66,221.46 L387.66,221.82 L388.65,222.19 L389.65,222.58 L390.65,222.99 L391.65,223.42"/>
<path d="M93.10,74.21 L94.10,74.37 L95.10,74.54 L96.09,74.70 L97.09,74.86 L98.09,75.02 L99.09,75.19 L100.09,75.35 L101.09,75.51 L102.09,75.67 L103.08,75.83 L104.08,75.99 L105.08,76.16 L106.08,76.32 L107.08,76.48 L108.08,76.64 L109.08,76.81 L110.07,76.97 L111.07,77.13 L112.07,77.30 L113.07,77.46 L114.07,77.63 L115.07,77.80 L116.06,77.97 L117.06,78.14 L118.06,78.31 L119.06,78.49 L120.06,78.66 L121.06,78.84 L122.06,79.02 L123.05,79.20 L124.05,79.39 L125.05,79.58 L126.05,79.77 L127.05,79.97 L128.05,80.16 L129.05,80.37 L130.04,80.58 L131.04,80.79 L132.04,81.01 L133.04,81.23 L134.04,81.46 L135.04,81.69 L136.03,81.93 L137.03,82.18 L138.03,82.44 L139.03,82.70 L140.03,82.97 L141.03,83.25 L142.03,83.55 L143.02,83.85 L144.02,84.16 L145.02,84.48 L146.02,84.82 L147.02,85.17 L148.02,85.53 L149.02,85.91 L150.01,86.30 L151.01,86.70 L152.01,87.13 L153.01,87.57 L154.01,88.03 L155.01,88.51 L156.00,89.01 L157.00,89.52 L158.00,90.06 L159.00,90.63 L160.00,91.21 L161.00,91.82 L162.00,92.45 L162.99,93.11 L163.99,93.79 L164.99,94.50 L165.99,95.24 L166.99,96.00 L167.99,96.79 L168.98,97.61 L169.98,98.45 L170.98,99.32 L171.98,100.22 L172.98,101.15 L173.98,102.10 L174.98,103.08 L175.97,104.09 L176.97,105.12 L177.97,106.18 L178.97,107.26 L179.97,108.36 L180.97,109.48 L181.97,110.63 L182.96,111.79 L183.96,112.98 L184.96,114.18 L185.96,115.39 L186.96,116.62 L187.96,117.86 L188.95,119.11 L189.95,120.37 L190.95,121.63 L191.95,122.91 L192.95,124.18 L193.95,125.46 L194.95,126.74 L195.94,128.03 L196.94,129.31 L197.94,130.58 L198.94,131.85 L199.94,133.12 L200.94,134.38 L201.94,135.64 L202.93,136.88 L203.93,138.12 L204.93,139.34 L205.93,140.55 L206.93,141.76 L207.93,142.94 L208.92,144.12 L209.92,145.28 L210.92,146.43 L211.92,147.56 L212.92,148.68 L213.92,149.78 L214.92,150.86 L215.91,151.93 L216.91,152.98 L217.91,154.02 L218.91,155.04 L219.91,156.04 L220.91,157.03 L221.91,158.00 L222.90,158.96 L223.90,159.89 L224.90,160.81 L225.90,161.72 L226.90,162.60 L227.90,163.48 L228.89,164.33 L229.89,165.17 L230.89,165.99 L231.89,166.80 L232.89,167.60 L233.89,168.37 L234.89,169.14 L235.88,169.88 L236.88,170.62 L237.88,171.34 L238.88,172.04 L239.88,172.73 L240.88,173.41 L241.88,174.08 L242.87,174.73 L243.87,175.37 L244.87,175.99 L245.87,176.60 L246.87,177.21 L247.87,177.79 L248.86,178.37 L249.86,178.94 L250.86,179.49 L251.86,180.04 L252.86,180.57 L253.86,181.09 L254.86,181.61 L255.85,182.11 L256.85,182.60 L257.85,183.08 L258.85,183.56 L259.85,184.02 L260.85,184.48 L261.85,184.93 L262.84,185.37 L263.84,185.80 L264.84,186.22 L265.84,186.64 L266.84,187.05 L267.84,187.45 L268.83,187.84 L269.83,188.23 L270.83,188.61 L271.83,188.99 L272.83,189.36 L273.83,189.72 L274.83,190.08 L275.82,190.44 L276.82,190.79 L277.82,191.14 L278.82,191.48 L279.82,191.82 L280.82,192.15 L281.82,192.49 L282.81,192.82 L283.81,193.15 L284.81,193.47 L285.81,193.80 L286.81,194.13 L287.81,194.45 L288.80,194.78 L289.80,195.10 L290.80,195.43 L291.80,195.76 L292.80,196.09 L293.80,196.42 L294.80,196.75 L295.79,197.09 L296.79,197.43 L297.79,197.77 L298.79,198.12 L299.79,198.47 L300.79,198.83 L301.79,199.19 L302.78,199.55 L303.78,199.92 L304.78,200.29 L305.78,200.67 L306.78,201.04 L307.78,201.43 L308.77,201.81 L309.77,202.20 L310.77,202.59 L311.77,202.99 L312.77,203.38 L313.77,203.78 L314.77,204.17 L315.76,204.57 L316.76,204.97 L317.76,205.36 L318.76,205.76 L319.76,206.15 L320.76,206.54 L321.76,206.93 L322.75,207.32 L323.75,207.70 L324.75,208.08 L325.75,208.46 L326.75,208.83 L327.75,209.20 L328.74,209.56 L329.74,209.92 L330.74,210.27 L331.74,210.62 L332.74,210.97 L333.74,211.31 L334.74,211.65 L335.73,211.98 L336.73,212.30 L337.73,212.63 L338.73,212.94 L339.73,213.26 L340.73,213.56 L341.73,213.87 L342.72,214.16 L343.72,214.46 L344.72,214.75 L345.72,215.03 L346.72,215.31 L347.72,215.59 L348.71,215.86 L349.71,216.12 L350.71,216.39 L351.71,216.65 L352.71,216.90 L353.71,217.15 L354.71,217.40 L355.70,217.65 L356.70,217.89 L357.70,218.13 L358.70,218.36 L359.70,218.59 L360.70,218.82 L361.70,219.05 L362.69,219.27 L363.69,219.49 L364.69,219.71 L365.69,219.93 L366.69,220.14 L367.69,220.36 L368.68,220.57 L369.68,220.78 L370.68,220.99 L371.68,221.20 L372.68,221.41 L373.68,221.62 L374.68,221.83 L375.67,222.04 L376.67,222.26 L377.67,222.47 L378.67,222.69 L379.67,222.92 L380.67,223.14 L381.67,223.37 L382.66,223.61 L383.66,223.86 L384.66,224.11 L385.66,224.37 L386.66,224.65 L387.66,224.93 L388.65,225.23 L389.65,225.55 L390.65,225.88 L391.65,226.23"/>
<path d="M93.10,78.12 L94.10,78.28 L95.10,78.45 L96.09,78.62 L97.09,78.79 L98.09,78.97 L99.09,79.14 L100.09,79.32 L101.09,79.50 L102.09,79.68 L103.08,79.86 L104.08,80.05 L105.08,80.23 L106.08,80.43 L107.08,80.62 L108.08,80.82 L109.08,81.02 L110.07,81.23 L111.07,81.44 L112.07,81.65 L113.07,81.87 L114.07,82.10 L115.07,82.33 L116.06,82.57 L117.06,82.81 L118.06,83.06 L119.06,83.32 L120.06,83.59 L121.06,83.86 L122.06,84.15 L123.05,84.45 L124.05,84.75 L125.05,85.07 L126.05,85.39 L127.05,85.73 L128.05,86.09 L129.05,86.46 L130.04,86.84 L131.04,87.23 L132.04,87.65 L133.04,88.08 L134.04,88.52 L135.04,88.99 L136.03,89.47 L137.03,89.98 L138.03,90.50 L139.03,91.05 L140.03,91.62 L141.03,92.22 L142.03,92.83 L143.02,93.48 L144.02,94.14 L145.02,94.84 L146.02,95.56 L147.02,96.30 L148.02,97.08 L149.02,97.88 L150.01,98.71 L151.01,99.57 L152.01,100.46 L153.01,101.38 L154.01,102.32 L155.01,103.29 L156.00,104.29 L157.00,105.32 L158.00,106.37 L159.00,107.45 L160.00,108.55 L161.00,109.68 L162.00,110.83 L162.99,112.00 L163.99,113.19 L164.99,114.40 L165.99,115.63 L166.99,116.87 L167.99,118.13 L168.98,119.40 L169.98,120.69 L170.98,121.98 L171.98,123.28 L172.98,124.59 L173.98,125.91 L174.98,127.23 L175.97,128.55 L176.97,129.87 L177.97,131.19 L178.97,132.51 L179.97,133.83 L180.97,135.14 L181.97,136.44 L182.96,137.74 L183.96,139.04 L184.96,140.32 L185.96,141.59 L186.96,142.85 L187.96,144.10 L188.95,145.34 L189.95,146.57 L190.95,147.78 L191.95,148.98 L192.95,150.16 L193.95,151.33 L194.95,152.48 L195.94,153.62 L196.94,154.74 L197.94,155.84 L198.94,156.93 L199.94,158.01 L200.94,159.06 L201.94,160.10 L202.93,161.13 L203.93,162.13 L204.93,163.12 L205.93,164.09 L206.93,165.05 L207.93,165.99 L208.92,166.91 L209.92,167.82 L210.92,168.71 L211.92,169.59 L212.92,170.45 L213.92,171.29 L214.92,172.12 L215.91,172.93 L216.91,173.73 L217.91,174.51 L218.91,175.28 L219.91,176.03 L220.91,176.77 L221.91,177.49 L222.90,178.21 L223.90,178.90 L224.90,179.59 L225.90,180.26 L226.90,180.92 L227.90,181.56 L228.89,182.19 L229.89,182.81 L230.89,183.42 L231.89,184.02 L232.89,184.60 L233.89,185.18 L234.89,185.74 L235.88,186.29 L236.88,186.83 L237.88,187.36 L238.88,187.88 L239.88,188.39 L240.88,188.89 L241.88,189.38 L242.87,189.86 L243.87,190.33 L244.87,190.79 L245.87,191.25 L246.87,191.69 L247.87,192.13 L248.86,192.55 L249.86,192.97 L250.86,193.38 L251.86,193.79 L252.86,194.18 L253.86,194.57 L254.86,194.95 L255.85,195.33 L256.85,195.70 L257.85,196.06 L258.85,196.41 L259.85,196.76 L260.85,197.10 L261.85,197.44 L262.84,197.77 L263.84,198.09 L264.84,198.41 L265.84,198.73 L266.84,199.04 L267.84,199.34 L268.83,199.64 L269.83,199.94 L270.83,200.23 L271.83,200.52 L272.83,200.80 L273.83,201.08 L274.83,201.36 L275.82,201.64 L276.82,201.91 L277.82,202.18 L278.82,202.44 L279.82,202.71 L280.82,202.97 L281.82,203.24 L282.81,203.50 L283.81,203.76 L284.81,204.02 L285.81,204.28 L286.81,204.54 L287.81,204.80 L288.80,205.06 L289.80,205.32 L290.80,205.58 L291.80,205.85 L292.80,206.11 L293.80,206.38 L294.80,206.65 L295.79,206.92 L296.79,207.20 L297.79,207.47 L298.79,207.75 L299.79,208.04 L300.79,208.32 L301.79,208.61 L302.78,208.90 L303.78,209.19 L304.78,209.48 L305.78,209.77 L306.78,210.07 L307.78,210.37 L308.77,210.67 L309.77,210.97 L310.77,211.26 L311.77,211.56 L312.77,211.86 L313.77,212.16 L314.77,212.46 L315.76,212.75 L316.76,213.04 L317.76,213.34 L318.76,213.63 L319.76,213.91 L320.76,214.20 L321.76,214.48 L322.75,214.76 L323.75,215.03 L324.75,215.30 L325.75,215.57 L326.75,215.84 L327.75,216.10 L328.74,216.36 L329.74,216.61 L330.74,216.86 L331.74,217.11 L332.74,217.36 L333.74,217.60 L334.74,217.83 L335.73,218.06 L336.73,218.29 L337.73,218.52 L338.73,218.74 L339.73,218.96 L340.73,219.17 L341.73,219.39 L342.72,219.59 L343.72,219.80 L344.72,220.00 L345.72,220.20 L346.72,220.39 L347.72,220.59 L348.71,220.78 L349.71,220.96 L350.71,221.15 L351.71,221.33 L352.71,221.51 L353.71,221.68 L354.71,221.86 L355.70,222.03 L356.70,222.20 L357.70,222.36 L358.70,222.53 L359.70,222.69 L360.70,222.85 L361.70,223.01 L362.69,223.17 L363.69,223.33 L364.69,223.48 L365.69,223.64 L366.69,223.79 L367.69,223.94 L368.68,224.09 L369.68,224.24 L370.68,224.40 L371.68,224.55 L372.68,224.70 L373.68,224.85 L374.68,225.01 L375.67,225.16 L376.67,225.32 L377.67,225.48 L378.67,225.65 L379.67,225.82 L380.67,225.99 L381.67,226.17 L382.66,226.35 L383.66,226.54 L384.66,226.74 L385.66,226.95 L386.66,227.17 L387.66,227.40 L388.65,227.64 L389.65,227.90 L390.65,228.18 L391.65,228.48"/>
<path d="M93.10,83.06 L94.10,83.31 L95.10,83.57 L96.09,83.84 L97.09,84.11 L98.09,84.40 L99.09,84.69 L100.09,84.99 L101.09,85.31 L102.09,85.63 L103.08,85.97 L104.08,86.32 L105.08,86.69 L106.08,87.07 L107.08,87.46 L108.08,87.87 L109.08,88.30 L110.07,88.74 L111.07,89.20 L112.07,89.69 L113.07,90.19 L114.07,90.71 L115.07,91.25 L116.06,91.82 L117.06,92.41 L118.06,93.02 L119.06,93.66 L120.06,94.33 L121.06,95.02 L122.06,95.73 L123.05,96.48 L124.05,97.25 L125.05,98.05 L126.05,98.88 L127.05,99.73 L128.05,100.62 L129.05,101.53 L130.04,102.47 L131.04,103.44 L132.04,104.44 L133.04,105.47 L134.04,106.52 L135.04,107.60 L136.03,108.70 L137.03,109.83 L138.03,110.98 L139.03,112.16 L140.03,113.35 L141.03,114.57 L142.03,115.80 L143.02,117.05 L144.02,118.32 L145.02,119.60 L146.02,120.89 L147.02,122.20 L148.02,123.51 L149.02,124.83 L150.01,126.16 L151.01,127.49 L152.01,128.83 L153.01,130.17 L154.01,131.50 L155.01,132.84 L156.00,134.18 L157.00,135.51 L158.00,136.83 L159.00,138.15 L160.00,139.46 L161.00,140.76 L162.00,142.06 L162.99,143.34 L163.99,144.62 L164.99,145.88 L165.99,147.13 L166.99,148.36 L167.99,149.58 L168.98,150.79 L169.98,151.98 L170.98,153.16 L171.98,154.32 L172.98,155.47 L173.98,156.60 L174.98,157.72 L175.97,158.82 L176.97,159.90 L177.97,160.96 L178.97,162.01 L179.97,163.04 L180.97,164.06 L181.97,165.06 L182.96,166.04 L183.96,167.01 L184.96,167.96 L185.96,168.89 L186.96,169.81 L187.96,170.71 L188.95,171.60 L189.95,172.47 L190.95,173.32 L191.95,174.16 L192.95,174.98 L193.95,175.79 L194.95,176.59 L195.94,177.37 L196.94,178.13 L197.94,178.88 L198.94,179.62 L199.94,180.34 L200.94,181.05 L201.94,181.75 L202.93,182.44 L203.93,183.11 L204.93,183.77 L205.93,184.42 L206.93,185.05 L207.93,185.68 L208.92,186.29 L209.92,186.89 L210.92,187.49 L211.92,188.07 L212.92,188.64 L213.92,189.20 L214.92,189.75 L215.91,190.30 L216.91,190.83 L217.91,191.35 L218.91,191.87 L219.91,192.38 L220.91,192.88 L221.91,193.38 L222.90,193.86 L223.90,194.35 L224.90,194.82 L225.90,195.29 L226.90,195.75 L227.90,196.21 L228.89,196.66 L229.89,197.11 L230.89,197.55 L231.89,197.99 L232.89,198.43 L233.89,198.86 L234.89,199.29 L235.88,199.72 L236.88,200.14 L237.88,200.56 L238.88,200.98 L239.88,201.39 L240.88,201.81 L241.88,202.22 L242.87,202.63 L243.87,203.03 L244.87,203.44 L245.87,203.84 L246.87,204.24 L247.87,204.64 L248.86,205.03 L249.86,205.42 L250.86,205.81 L251.86,206.19 L252.86,206.57 L253.86,206.95 L254.86,207.32 L255.85,207.69 L256.85,208.06 L257.85,208.42 L258.85,208.78 L259.85,209.13 L260.85,209.48 L261.85,209.82 L262.84,210.16 L263.84,210.49 L264.84,210.82 L265.84,211.15 L266.84,211.47 L267.84,211.78 L268.83,212.10 L269.83,212.40 L270.83,212.70 L271.83,213.00 L272.83,213.29 L273.83,213.58 L274.83,213.86 L275.82,214.14 L276.82,214.41 L277.82,214.68 L278.82,214.95 L279.82,215.21 L280.82,215.47 L281.82,215.72 L282.81,215.97 L283.81,216.21 L284.81,216.45 L285.81,216.69 L286.81,216.92 L287.81,217.15 L288.80,217.38 L289.80,217.60 L290.80,217.82 L291.80,218.03 L292.80,218.24 L293.80,218.45 L294.80,218.66 L295.79,218.86 L296.79,219.06 L297.79,219.25 L298.79,219.44 L299.79,219.63 L300.79,219.82 L301.79,220.00 L302.78,220.18 L303.78,220.36 L304.78,220.54 L305.78,220.71 L306.78,220.88 L307.78,221.05 L308.77,221.21 L309.77,221.37 L310.77,221.53 L311.77,221.69 L312.77,221.84 L313.77,222.00 L314.77,222.15 L315.76,222.29 L316.76,222.44 L317.76,222.58 L318.76,222.73 L319.76,222.87 L320.76,223.00 L321.76,223.14 L322.75,223.27 L323.75,223.40 L324.75,223.53 L325.75,223.66 L326.75,223.79 L327.75,223.91 L328.74,224.03 L329.74,224.15 L330.74,224.27 L331.74,224.39 L332.74,224.50 L333.74,224.62 L334.74,224.73 L335.73,224.84 L336.73,224.95 L337.73,225.06 L338.73,225.17 L339.73,225.27 L340.73,225.37 L341.73,225.48 L342.72,225.58 L343.72,225.68 L344.72,225.77 L345.72,225.87 L346.72,225.97 L347.72,226.06 L348.71,226.16 L349.71,226.25 L350.71,226.34 L351.71,226.43 L352.71,226.52 L353.71,226.61 L354.71,226.70 L355.70,226.78 L356.70,226.87 L357.70,226.95 L358.70,227.04 L359.70,227.12 L360.70,227.21 L361.70,227.29 L362.69,227.37 L363.69,227.46 L364.69,227.54 L365.69,227.62 L366.69,227.71 L367.69,227.79 L368.68,227.87 L369.68,227.96 L370.68,228.04 L371.68,228.13 L372.68,228.22 L373.68,228.31 L374.68,228.40 L375.67,228.50 L376.67,228.59 L377.67,228.69 L378.67,228.80 L379.67,228.91 L380.67,229.02 L381.67,229.14 L382.66,229.27 L383.66,229.40 L384.66,229.54 L385.66,229.69 L386.66,229.85 L387.66,230.02 L388.65,230.21 L389.65,230.41 L390.65,230.63 L391.65,230.86"/>
<path d="M93.10,94.39 L94.10,95.08 L95.10,95.80 L96.09,96.55 L97.09,97.33 L98.09,98.13 L99.09,98.96 L100.09,99.82 L101.09,100.71 L102.09,101.63 L103.08,102.57 L104.08,103.55 L105.08,104.55 L106.08,105.58 L107.08,106.63 L108.08,107.72 L109.08,108.83 L110.07,109.96 L111.07,111.12 L112.07,112.30 L113.07,113.50 L114.07,114.72 L115.07,115.96 L116.06,117.22 L117.06,118.49 L118.06,119.78 L119.06,121.08 L120.06,122.40 L121.06,123.72 L122.06,125.05 L123.05,126.39 L124.05,127.74 L125.05,129.09 L126.05,130.44 L127.05,131.79 L128.05,133.15 L129.05,134.50 L130.04,135.85 L131.04,137.20 L132.04,138.54 L133.04,139.88 L134.04,141.21 L135.04,142.53 L136.03,143.85 L137.03,145.16 L138.03,146.46 L139.03,147.75 L140.03,149.03 L141.03,150.29 L142.03,151.55 L143.02,152.79 L144.02,154.03 L145.02,155.25 L146.02,156.45 L147.02,157.64 L148.02,158.82 L149.02,159.99 L150.01,161.14 L151.01,162.28 L152.01,163.40 L153.01,164.51 L154.01,165.60 L155.01,166.68 L156.00,167.74 L157.00,168.79 L158.00,169.83 L159.00,170.85 L160.00,171.85 L161.00,172.84 L162.00,173.81 L162.99,174.77 L163.99,175.71 L164.99,176.64 L165.99,177.56 L166.99,178.46 L167.99,179.34 L168.98,180.21 L169.98,181.07 L170.98,181.91 L171.98,182.74 L172.98,183.55 L173.98,184.35 L174.98,185.14 L175.97,185.91 L176.97,186.67 L177.97,187.42 L178.97,188.15 L179.97,188.87 L180.97,189.58 L181.97,190.28 L182.96,190.96 L183.96,191.64 L184.96,192.30 L185.96,192.95 L186.96,193.58 L187.96,194.21 L188.95,194.83 L189.95,195.43 L190.95,196.02 L191.95,196.61 L192.95,197.18 L193.95,197.74 L194.95,198.29 L195.94,198.84 L196.94,199.37 L197.94,199.89 L198.94,200.41 L199.94,200.91 L200.94,201.41 L201.94,201.90 L202.93,202.37 L203.93,202.84 L204.93,203.31 L205.93,203.76 L206.93,204.20 L207.93,204.64 L208.92,205.07 L209.92,205.49 L210.92,205.91 L211.92,206.32 L212.92,206.72 L213.92,207.11 L214.92,207.49 L215.91,207.87 L216.91,208.25 L217.91,208.61 L218.91,208.97 L219.91,209.33 L220.91,209.67 L221.91,210.01 L222.90,210.35 L223.90,210.68 L224.90,211.00 L225.90,211.32 L226.90,211.63 L227.90,211.94 L228.89,212.24 L229.89,212.54 L230.89,212.83 L231.89,213.12 L232.89,213.40 L233.89,213.68 L234.89,213.95 L235.88,214.22 L236.88,214.48 L237.88,214.74 L238.88,215.00 L239.88,215.25 L240.88,215.49 L241.88,215.74 L242.87,215.97 L243.87,216.21 L244.87,216.44 L245.87,216.67 L246.87,216.89 L247.87,217.11 L248.86,217.32 L249.86,217.54 L250.86,217.75 L251.86,217.95 L252.86,218.16 L253.86,218.36 L254.86,218.55 L255.85,218.74 L256.85,218.94 L257.85,219.12 L258.85,219.31 L259.85,219.49 L260.85,219.67 L261.85,219.84 L262.84,220.02 L263.84,220.19 L264.84,220.36 L265.84,220.52 L266.84,220.68 L267.84,220.84 L268.83,221.00 L269.83,221.16 L270.83,221.31 L271.83,221.46 L272.83,221.61 L273.83,221.76 L274.83,221.90 L275.82,222.05 L276.82,222.19 L277.82,222.33 L278.82,222.46 L279.82,222.60 L280.82,222.73 L281.82,222.86 L282.81,222.99 L283.81,223.12 L284.81,223.24 L285.81,223.37 L286.81,223.49 L287.81,223.61 L288.80,223.73 L289.80,223.84 L290.80,223.96 L291.80,224.07 L292.80,224.19 L293.80,224.30 L294.80,224.41 L295.79,224.51 L296.79,224.62 L297.79,224.73 L298.79,224.83 L299.79,224.93 L300.79,225.03 L301.79,225.13 L302.78,225.23 L303.78,225.33 L304.78,225.42 L305.78,225.52 L306.78,225.61 L307.78,225.70 L308.77,225.79 L309.77,225.88 L310.77,225.97 L311.77,226.06 L312.77,226.14 L313.77,226.23 L314.77,226.31 L315.76,226.39 L316.76,226.48 L317.76,226.56 L318.76,226.64 L319.76,226.71 L320.76,226.79 L321.76,226.87 L322.75,226.95 L323.75,227.02 L324.75,227.09 L325.75,227.17 L326.75,227.24 L327.75,227.31 L328.74,227.38 L329.74,227.45 L330.74,227.52 L331.74,227.59 L332.74,227.65 L333.74,227.72 L334.74,227.79 L335.73,227.85 L336.73,227.92 L337.73,227.98 L338.73,228.04 L339.73,228.10 L340.73,228.17 L341.73,228.23 L342.72,228.29 L343.72,228.35 L344.72,228.40 L345.72,228.46 L346.72,228.52 L347.72,228.58 L348.71,228.63 L349.71,228.69 L350.71,228.74 L351.71,228.80 L352.71,228.85 L353.71,228.91 L354.71,228.96 L355.70,229.02 L356.70,229.07 L357.70,229.12 L358.70,229.18 L359.70,229.23 L360.70,229.28 L361.70,229.34 L362.69,229.39 L363.69,229.44 L364.69,229.50 L365.69,229.55 L366.69,229.61 L367.69,229.66 L368.68,229.72 L369.68,229.78 L370.68,229.84 L371.68,229.90 L372.68,229.96 L373.68,230.02 L374.68,230.09 L375.67,230.16 L376.67,230.23 L377.67,230.31 L378.67,230.38 L379.67,230.47 L380.67,230.56 L381.67,230.65 L382.66,230.75 L383.66,230.86 L384.66,230.98 L385.66,231.10 L386.66,231.24 L387.66,231.38 L388.65,231.54 L389.65,231.72 L390.65,231.91 L391.65,232.11"/></g>
<g class="tx">
<rect x="69.35" y="47.7" width="357.79999999999995" height="209.40000000000003" fill="none" stroke="#000" stroke-width="1.5"/>
<text class="t" transform="translate(69.35,276.2) scale(0.93,1)" text-anchor="middle">-2</text>
<text class="t" transform="translate(109.11,276.2) scale(0.93,1)" text-anchor="middle">-1</text>
<text class="t" transform="translate(149.46,276.2) scale(0.93,1)" text-anchor="middle">0</text>
<text class="t" transform="translate(189.22,276.2) scale(0.93,1)" text-anchor="middle">1</text>
<text class="t" transform="translate(228.97,276.2) scale(0.93,1)" text-anchor="middle">2</text>
<text class="t" transform="translate(268.73,276.2) scale(0.93,1)" text-anchor="middle">3</text>
<text class="t" transform="translate(308.48,276.2) scale(0.93,1)" text-anchor="middle">4</text>
<text class="t" transform="translate(348.24,276.2) scale(0.93,1)" text-anchor="middle">5</text>
<text class="t" transform="translate(387.99,276.2) scale(0.93,1)" text-anchor="middle">6</text>
<text class="t" transform="translate(427.75,276.2) scale(0.93,1)" text-anchor="middle">7</text>
<text class="t" transform="translate(61.1,248.34) scale(0.93,1)" text-anchor="end">0.6</text>
<text class="t" transform="translate(61.1,220.42) scale(0.93,1)" text-anchor="end">0.8</text>
<text class="t" transform="translate(61.1,192.50) scale(0.93,1)" text-anchor="end">1</text>
<text class="t" transform="translate(61.1,164.58) scale(0.93,1)" text-anchor="end">1.2</text>
<text class="t" transform="translate(61.1,136.66) scale(0.93,1)" text-anchor="end">1.4</text>
<text class="t" transform="translate(61.1,108.74) scale(0.93,1)" text-anchor="end">1.6</text>
<text class="t" transform="translate(61.1,80.82) scale(0.93,1)" text-anchor="end">1.8</text>
<text class="t" transform="translate(61.1,52.90) scale(0.93,1)" text-anchor="end">2</text>
<path d="M69.35,257.1 v-4.0 M69.35,47.7 v4.0 M109.11,257.1 v-4.0 M109.11,47.7 v4.0 M148.86,257.1 v-4.0 M148.86,47.7 v4.0 M188.62,257.1 v-4.0 M188.62,47.7 v4.0 M228.37,257.1 v-4.0 M228.37,47.7 v4.0 M268.13,257.1 v-4.0 M268.13,47.7 v4.0 M307.88,257.1 v-4.0 M307.88,47.7 v4.0 M347.64,257.1 v-4.0 M347.64,47.7 v4.0 M387.39,257.1 v-4.0 M387.39,47.7 v4.0 M427.15,257.1 v-4.0 M427.15,47.7 v4.0 M69.35,243.14 h4.0 M427.15,243.14 h-4.0 M69.35,215.22 h4.0 M427.15,215.22 h-4.0 M69.35,187.30 h4.0 M427.15,187.30 h-4.0 M69.35,159.38 h4.0 M427.15,159.38 h-4.0 M69.35,131.46 h4.0 M427.15,131.46 h-4.0 M69.35,103.54 h4.0 M427.15,103.54 h-4.0 M69.35,75.62 h4.0 M427.15,75.62 h-4.0 M69.35,47.70 h4.0 M427.15,47.70 h-4.0 " stroke="#000" stroke-width="1.33" fill="none"/>
<g class="cb"><path d="M91.21,326.57 L92.18,327.47 L93.15,328.35 L94.13,329.21 L95.10,330.05 L96.07,330.88 L97.05,331.69 L98.02,332.49 L98.99,333.27 L99.97,334.04 L100.94,334.80 L101.91,335.54 L102.89,336.27 L103.86,336.99 L104.83,337.70 L105.80,338.40 L106.78,339.09 L107.75,339.77 L108.72,340.45 L109.70,341.11 L110.67,341.77 L111.64,342.42 L112.62,343.07 L113.59,343.70 L114.56,344.33 L115.54,344.96 L116.51,345.58 L117.48,346.20 L118.45,346.81 L119.43,347.41 L120.40,348.01 L121.37,348.61 L122.35,349.20 L123.32,349.79 L124.29,350.38 L125.27,350.96 L126.24,351.54 L127.21,352.11 L128.19,352.68 L129.16,353.25 L130.13,353.82 L131.11,354.38 L132.08,354.94 L133.05,355.50 L134.02,356.05 L135.00,356.61 L135.97,357.16 L136.94,357.70 L137.92,358.25 L138.89,358.79 L139.86,359.33 L140.84,359.87 L141.81,360.40 L142.78,360.93 L143.76,361.46 L144.73,361.99 L145.70,362.51 L146.68,363.03 L147.65,363.55 L148.62,364.06 L149.59,364.57 L150.57,365.08 L151.54,365.58 L152.51,366.08 L153.49,366.58 L154.46,367.07 L155.43,367.56 L156.41,368.05 L157.38,368.53 L158.35,369.00 L159.33,369.47 L160.30,369.93 L161.27,370.39 L162.25,370.85 L163.22,371.29 L164.19,371.73 L165.16,372.17 L166.14,372.59 L167.11,373.01 L168.08,373.42 L169.06,373.83 L170.03,374.22 L171.00,374.61 L171.98,374.98 L172.95,375.35 L173.92,375.71 L174.90,376.05 L175.87,376.38 L176.84,376.71 L177.82,377.01 L178.79,377.31 L179.76,377.59 L180.73,377.86 L181.71,378.11 L182.68,378.35 L183.65,378.57 L184.63,378.78 L185.60,378.96 L186.57,379.13 L187.55,379.28 L188.52,379.42 L189.49,379.53 L190.47,379.62 L191.44,379.69 L192.41,379.74 L193.39,379.77 L194.36,379.77 L195.33,379.76 L196.30,379.72 L197.28,379.65 L198.25,379.56 L199.22,379.45 L200.20,379.31 L201.17,379.15 L202.14,378.96 L203.12,378.74 L204.09,378.50 L205.06,378.24 L206.04,377.95 L207.01,377.63 L207.98,377.29 L208.96,376.92 L209.93,376.53 L210.90,376.11 L211.87,375.67 L212.85,375.21 L213.82,374.72 L214.79,374.21 L215.77,373.68 L216.74,373.12 L217.71,372.55 L218.69,371.95 L219.66,371.34 L220.63,370.71 L221.61,370.06 L222.58,369.40 L223.55,368.72 L224.53,368.02 L225.50,367.32 L226.47,366.60 L227.44,365.87 L228.42,365.13 L229.39,364.38 L230.36,363.62 L231.34,362.86 L232.31,362.09 L233.28,361.32 L234.26,360.55 L235.23,359.78 L236.20,359.00 L237.18,358.23 L238.15,357.46 L239.12,356.69 L240.10,355.94 L241.07,355.18 L242.04,354.44 L243.01,353.70 L243.99,352.98 L244.96,352.27 L245.93,351.57 L246.91,350.89 L247.88,350.23 L248.85,349.58 L249.83,348.96 L250.80,348.35 L251.77,347.77 L252.75,347.21 L253.72,346.67 L254.69,346.16 L255.67,345.68 L256.64,345.23 L257.61,344.81 L258.58,344.41 L259.56,344.05 L260.53,343.73 L261.50,343.43 L262.48,343.17 L263.45,342.94 L264.42,342.75 L265.40,342.60 L266.37,342.48 L267.34,342.40 L268.32,342.35 L269.29,342.34 L270.26,342.37 L271.24,342.43 L272.21,342.53 L273.18,342.67 L274.15,342.84 L275.13,343.04 L276.10,343.28 L277.07,343.56 L278.05,343.86 L279.02,344.20 L279.99,344.58 L280.97,344.98 L281.94,345.41 L282.91,345.87 L283.89,346.36 L284.86,346.87 L285.83,347.41 L286.80,347.98 L287.78,348.57 L288.75,349.18 L289.72,349.81 L290.70,350.47 L291.67,351.14 L292.64,351.84 L293.62,352.55 L294.59,353.28 L295.56,354.02 L296.54,354.78 L297.51,355.55 L298.48,356.34 L299.46,357.14 L300.43,357.94 L301.40,358.76 L302.37,359.59 L303.35,360.43 L304.32,361.28 L305.29,362.13 L306.27,362.99 L307.24,363.86 L308.21,364.73 L309.19,365.60 L310.16,366.48 L311.13,367.36 L312.11,368.24 L313.08,369.12 L314.05,370.00 L315.03,370.89 L316.00,371.77 L316.97,372.65 L317.94,373.52 L318.92,374.39 L319.89,375.26 L320.86,376.12 L321.84,376.98 L322.81,377.83 L323.78,378.67 L324.76,379.50 L325.73,380.33 L326.70,381.14 L327.68,381.94 L328.65,382.73 L329.62,383.51 L330.60,384.27 L331.57,385.01 L332.54,385.74 L333.51,386.46 L334.49,387.15 L335.46,387.82 L336.43,388.48 L337.41,389.11 L338.38,389.72 L339.35,390.30 L340.33,390.86 L341.30,391.40 L342.27,391.91 L343.25,392.39 L344.22,392.84 L345.19,393.26 L346.17,393.65 L347.14,394.01 L348.11,394.33 L349.08,394.63 L350.06,394.89 L351.03,395.11 L352.00,395.30 L352.98,395.46 L353.95,395.58 L354.92,395.66 L355.90,395.71 L356.87,395.73 L357.84,395.71 L358.82,395.65 L359.79,395.56 L360.76,395.44 L361.74,395.28 L362.71,395.09 L363.68,394.87 L364.65,394.62 L365.63,394.34 L366.60,394.03 L367.57,393.70 L368.55,393.35 L369.52,392.97 L370.49,392.57 L371.47,392.15 L372.44,391.72 L373.41,391.28 L374.39,390.82 L375.36,390.36 L376.33,389.90 L377.31,389.44 L378.28,388.98 L379.25,388.52 L380.22,388.08 L381.20,387.65 L382.17,387.23 L383.14,386.84 L384.12,386.47 L385.09,386.12 L386.06,385.81 L387.04,385.53 L388.01,385.28 L388.98,385.07 L389.96,384.90 L390.93,384.76 L391.90,384.67 L392.88,384.61 L393.85,384.60 L394.82,384.62 L395.79,384.68 L396.77,384.77 L397.74,384.90 L398.71,385.05 L399.69,385.24 L400.66,385.45 L401.63,385.69"/>
<path d="M91.21,334.04 L92.18,334.78 L93.15,335.51 L94.13,336.23 L95.10,336.94 L96.07,337.64 L97.05,338.33 L98.02,339.01 L98.99,339.69 L99.97,340.35 L100.94,341.01 L101.91,341.66 L102.89,342.31 L103.86,342.94 L104.83,343.58 L105.80,344.20 L106.78,344.82 L107.75,345.44 L108.72,346.05 L109.70,346.65 L110.67,347.25 L111.64,347.85 L112.62,348.44 L113.59,349.03 L114.56,349.62 L115.54,350.20 L116.51,350.78 L117.48,351.35 L118.45,351.92 L119.43,352.49 L120.40,353.06 L121.37,353.62 L122.35,354.18 L123.32,354.74 L124.29,355.30 L125.27,355.85 L126.24,356.40 L127.21,356.95 L128.19,357.49 L129.16,358.04 L130.13,358.57 L131.11,359.11 L132.08,359.65 L133.05,360.18 L134.02,360.71 L135.00,361.24 L135.97,361.76 L136.94,362.28 L137.92,362.80 L138.89,363.31 L139.86,363.82 L140.84,364.33 L141.81,364.84 L142.78,365.34 L143.76,365.84 L144.73,366.33 L145.70,366.82 L146.68,367.31 L147.65,367.79 L148.62,368.26 L149.59,368.73 L150.57,369.20 L151.54,369.66 L152.51,370.12 L153.49,370.56 L154.46,371.01 L155.43,371.44 L156.41,371.87 L157.38,372.29 L158.35,372.71 L159.33,373.11 L160.30,373.51 L161.27,373.90 L162.25,374.28 L163.22,374.65 L164.19,375.01 L165.16,375.35 L166.14,375.69 L167.11,376.02 L168.08,376.33 L169.06,376.63 L170.03,376.92 L171.00,377.19 L171.98,377.45 L172.95,377.69 L173.92,377.92 L174.90,378.13 L175.87,378.32 L176.84,378.50 L177.82,378.65 L178.79,378.79 L179.76,378.91 L180.73,379.01 L181.71,379.09 L182.68,379.15 L183.65,379.18 L184.63,379.20 L185.60,379.19 L186.57,379.16 L187.55,379.10 L188.52,379.02 L189.49,378.91 L190.47,378.78 L191.44,378.63 L192.41,378.45 L193.39,378.25 L194.36,378.02 L195.33,377.76 L196.30,377.48 L197.28,377.17 L198.25,376.84 L199.22,376.48 L200.20,376.10 L201.17,375.69 L202.14,375.26 L203.12,374.81 L204.09,374.33 L205.06,373.83 L206.04,373.31 L207.01,372.76 L207.98,372.20 L208.96,371.61 L209.93,371.01 L210.90,370.38 L211.87,369.74 L212.85,369.09 L213.82,368.42 L214.79,367.73 L215.77,367.03 L216.74,366.32 L217.71,365.59 L218.69,364.86 L219.66,364.12 L220.63,363.37 L221.61,362.61 L222.58,361.85 L223.55,361.09 L224.53,360.32 L225.50,359.55 L226.47,358.78 L227.44,358.01 L228.42,357.25 L229.39,356.48 L230.36,355.73 L231.34,354.98 L232.31,354.24 L233.28,353.50 L234.26,352.78 L235.23,352.07 L236.20,351.38 L237.18,350.70 L238.15,350.04 L239.12,349.39 L240.10,348.77 L241.07,348.16 L242.04,347.58 L243.01,347.02 L243.99,346.48 L244.96,345.98 L245.93,345.49 L246.91,345.04 L247.88,344.62 L248.85,344.22 L249.83,343.86 L250.80,343.53 L251.77,343.23 L252.75,342.97 L253.72,342.74 L254.69,342.55 L255.67,342.39 L256.64,342.27 L257.61,342.18 L258.58,342.13 L259.56,342.12 L260.53,342.14 L261.50,342.20 L262.48,342.29 L263.45,342.42 L264.42,342.59 L265.40,342.79 L266.37,343.02 L267.34,343.29 L268.32,343.59 L269.29,343.92 L270.26,344.29 L271.24,344.68 L272.21,345.10 L273.18,345.56 L274.15,346.04 L275.13,346.54 L276.10,347.07 L277.07,347.63 L278.05,348.20 L279.02,348.80 L279.99,349.43 L280.97,350.07 L281.94,350.73 L282.91,351.41 L283.89,352.10 L284.86,352.81 L285.83,353.54 L286.80,354.28 L287.78,355.03 L288.75,355.80 L289.72,356.58 L290.70,357.36 L291.67,358.16 L292.64,358.96 L293.62,359.78 L294.59,360.60 L295.56,361.42 L296.54,362.25 L297.51,363.09 L298.48,363.92 L299.46,364.76 L300.43,365.60 L301.40,366.45 L302.37,367.29 L303.35,368.13 L304.32,368.97 L305.29,369.81 L306.27,370.65 L307.24,371.48 L308.21,372.31 L309.19,373.13 L310.16,373.95 L311.13,374.76 L312.11,375.56 L313.08,376.36 L314.05,377.15 L315.03,377.92 L316.00,378.69 L316.97,379.45 L317.94,380.19 L318.92,380.92 L319.89,381.64 L320.86,382.35 L321.84,383.04 L322.81,383.71 L323.78,384.37 L324.76,385.02 L325.73,385.65 L326.70,386.26 L327.68,386.85 L328.65,387.43 L329.62,387.98 L330.60,388.52 L331.57,389.04 L332.54,389.54 L333.51,390.02 L334.49,390.48 L335.46,390.92 L336.43,391.34 L337.41,391.74 L338.38,392.11 L339.35,392.47 L340.33,392.81 L341.30,393.13 L342.27,393.43 L343.25,393.71 L344.22,393.97 L345.19,394.22 L346.17,394.44 L347.14,394.65 L348.11,394.84 L349.08,395.01 L350.06,395.16 L351.03,395.31 L352.00,395.43 L352.98,395.54 L353.95,395.64 L354.92,395.73 L355.90,395.80 L356.87,395.86 L357.84,395.91 L358.82,395.95 L359.79,395.98 L360.76,396.00 L361.74,396.01 L362.71,396.01 L363.68,396.01 L364.65,396.01 L365.63,395.99 L366.60,395.97 L367.57,395.95 L368.55,395.93 L369.52,395.90 L370.49,395.87 L371.47,395.84 L372.44,395.80 L373.41,395.77 L374.39,395.74 L375.36,395.71 L376.33,395.69 L377.31,395.66 L378.28,395.64 L379.25,395.63 L380.22,395.62 L381.20,395.62 L382.17,395.63 L383.14,395.64 L384.12,395.67 L385.09,395.70 L386.06,395.75 L387.04,395.81 L388.01,395.88 L388.98,395.97 L389.96,396.07 L390.93,396.18 L391.90,396.31 L392.88,396.46 L393.85,396.62 L394.82,396.79 L395.79,396.98 L396.77,397.18 L397.74,397.40 L398.71,397.63 L399.69,397.88 L400.66,398.13 L401.63,398.40"/>
<path d="M91.21,339.50 L92.18,340.14 L93.15,340.76 L94.13,341.38 L95.10,341.99 L96.07,342.60 L97.05,343.21 L98.02,343.81 L98.99,344.41 L99.97,345.00 L100.94,345.59 L101.91,346.18 L102.89,346.76 L103.86,347.34 L104.83,347.92 L105.80,348.49 L106.78,349.06 L107.75,349.63 L108.72,350.19 L109.70,350.76 L110.67,351.32 L111.64,351.88 L112.62,352.43 L113.59,352.99 L114.56,353.54 L115.54,354.09 L116.51,354.63 L117.48,355.18 L118.45,355.72 L119.43,356.26 L120.40,356.80 L121.37,357.33 L122.35,357.86 L123.32,358.39 L124.29,358.92 L125.27,359.45 L126.24,359.97 L127.21,360.49 L128.19,361.01 L129.16,361.52 L130.13,362.04 L131.11,362.54 L132.08,363.05 L133.05,363.55 L134.02,364.05 L135.00,364.55 L135.97,365.04 L136.94,365.52 L137.92,366.01 L138.89,366.48 L139.86,366.96 L140.84,367.43 L141.81,367.89 L142.78,368.35 L143.76,368.80 L144.73,369.25 L145.70,369.69 L146.68,370.12 L147.65,370.55 L148.62,370.97 L149.59,371.38 L150.57,371.78 L151.54,372.17 L152.51,372.56 L153.49,372.93 L154.46,373.30 L155.43,373.66 L156.41,374.00 L157.38,374.33 L158.35,374.66 L159.33,374.96 L160.30,375.26 L161.27,375.54 L162.25,375.81 L163.22,376.06 L164.19,376.30 L165.16,376.53 L166.14,376.73 L167.11,376.92 L168.08,377.09 L169.06,377.24 L170.03,377.38 L171.00,377.49 L171.98,377.59 L172.95,377.66 L173.92,377.71 L174.90,377.74 L175.87,377.75 L176.84,377.73 L177.82,377.70 L178.79,377.63 L179.76,377.55 L180.73,377.44 L181.71,377.30 L182.68,377.14 L183.65,376.96 L184.63,376.75 L185.60,376.51 L186.57,376.25 L187.55,375.97 L188.52,375.66 L189.49,375.32 L190.47,374.96 L191.44,374.57 L192.41,374.16 L193.39,373.73 L194.36,373.27 L195.33,372.79 L196.30,372.29 L197.28,371.77 L198.25,371.23 L199.22,370.66 L200.20,370.08 L201.17,369.48 L202.14,368.86 L203.12,368.22 L204.09,367.57 L205.06,366.90 L206.04,366.22 L207.01,365.53 L207.98,364.82 L208.96,364.11 L209.93,363.38 L210.90,362.65 L211.87,361.91 L212.85,361.17 L213.82,360.42 L214.79,359.67 L215.77,358.92 L216.74,358.17 L217.71,357.42 L218.69,356.67 L219.66,355.92 L220.63,355.19 L221.61,354.45 L222.58,353.73 L223.55,353.01 L224.53,352.31 L225.50,351.62 L226.47,350.94 L227.44,350.28 L228.42,349.64 L229.39,349.01 L230.36,348.40 L231.34,347.81 L232.31,347.25 L233.28,346.71 L234.26,346.19 L235.23,345.70 L236.20,345.24 L237.18,344.81 L238.15,344.40 L239.12,344.03 L240.10,343.68 L241.07,343.37 L242.04,343.10 L243.01,342.85 L243.99,342.64 L244.96,342.47 L245.93,342.33 L246.91,342.23 L247.88,342.16 L248.85,342.13 L249.83,342.13 L250.80,342.17 L251.77,342.25 L252.75,342.36 L253.72,342.50 L254.69,342.68 L255.67,342.90 L256.64,343.15 L257.61,343.43 L258.58,343.74 L259.56,344.08 L260.53,344.46 L261.50,344.86 L262.48,345.29 L263.45,345.75 L264.42,346.24 L265.40,346.75 L266.37,347.28 L267.34,347.84 L268.32,348.42 L269.29,349.02 L270.26,349.64 L271.24,350.28 L272.21,350.94 L273.18,351.61 L274.15,352.30 L275.13,353.01 L276.10,353.73 L277.07,354.46 L278.05,355.20 L279.02,355.96 L279.99,356.72 L280.97,357.49 L281.94,358.27 L282.91,359.06 L283.89,359.85 L284.86,360.65 L285.83,361.46 L286.80,362.26 L287.78,363.07 L288.75,363.89 L289.72,364.70 L290.70,365.51 L291.67,366.32 L292.64,367.14 L293.62,367.94 L294.59,368.75 L295.56,369.56 L296.54,370.35 L297.51,371.15 L298.48,371.94 L299.46,372.72 L300.43,373.50 L301.40,374.27 L302.37,375.03 L303.35,375.78 L304.32,376.52 L305.29,377.25 L306.27,377.97 L307.24,378.69 L308.21,379.38 L309.19,380.07 L310.16,380.75 L311.13,381.41 L312.11,382.06 L313.08,382.69 L314.05,383.31 L315.03,383.92 L316.00,384.51 L316.97,385.09 L317.94,385.66 L318.92,386.20 L319.89,386.74 L320.86,387.25 L321.84,387.76 L322.81,388.24 L323.78,388.72 L324.76,389.17 L325.73,389.61 L326.70,390.04 L327.68,390.46 L328.65,390.85 L329.62,391.24 L330.60,391.61 L331.57,391.97 L332.54,392.31 L333.51,392.64 L334.49,392.97 L335.46,393.27 L336.43,393.57 L337.41,393.86 L338.38,394.13 L339.35,394.40 L340.33,394.65 L341.30,394.90 L342.27,395.14 L343.25,395.37 L344.22,395.59 L345.19,395.81 L346.17,396.01 L347.14,396.21 L348.11,396.41 L349.08,396.60 L350.06,396.78 L351.03,396.96 L352.00,397.13 L352.98,397.30 L353.95,397.46 L354.92,397.62 L355.90,397.78 L356.87,397.93 L357.84,398.08 L358.82,398.22 L359.79,398.36 L360.76,398.50 L361.74,398.63 L362.71,398.76 L363.68,398.88 L364.65,399.00 L365.63,399.12 L366.60,399.24 L367.57,399.35 L368.55,399.45 L369.52,399.56 L370.49,399.66 L371.47,399.76 L372.44,399.86 L373.41,399.96 L374.39,400.06 L375.36,400.15 L376.33,400.25 L377.31,400.35 L378.28,400.45 L379.25,400.55 L380.22,400.67 L381.20,400.78 L382.17,400.91 L383.14,401.04 L384.12,401.19 L385.09,401.35 L386.06,401.53 L387.04,401.72 L388.01,401.93 L388.98,402.16 L389.96,402.41 L390.93,402.68 L391.90,402.98 L392.88,403.30 L393.85,403.64 L394.82,404.00 L395.79,404.39 L396.77,404.80 L397.74,405.23 L398.71,405.69 L399.69,406.16 L400.66,406.65 L401.63,407.16"/>
<path d="M91.21,346.48 L92.18,347.05 L93.15,347.62 L94.13,348.18 L95.10,348.75 L96.07,349.31 L97.05,349.87 L98.02,350.42 L98.99,350.98 L99.97,351.53 L100.94,352.08 L101.91,352.63 L102.89,353.18 L103.86,353.72 L104.83,354.26 L105.80,354.80 L106.78,355.34 L107.75,355.88 L108.72,356.41 L109.70,356.94 L110.67,357.47 L111.64,358.00 L112.62,358.53 L113.59,359.05 L114.56,359.57 L115.54,360.09 L116.51,360.60 L117.48,361.11 L118.45,361.62 L119.43,362.13 L120.40,362.63 L121.37,363.13 L122.35,363.63 L123.32,364.12 L124.29,364.61 L125.27,365.10 L126.24,365.58 L127.21,366.05 L128.19,366.52 L129.16,366.99 L130.13,367.45 L131.11,367.91 L132.08,368.35 L133.05,368.80 L134.02,369.24 L135.00,369.67 L135.97,370.09 L136.94,370.51 L137.92,370.91 L138.89,371.31 L139.86,371.70 L140.84,372.09 L141.81,372.46 L142.78,372.82 L143.76,373.17 L144.73,373.51 L145.70,373.84 L146.68,374.16 L147.65,374.47 L148.62,374.76 L149.59,375.03 L150.57,375.30 L151.54,375.55 L152.51,375.78 L153.49,376.00 L154.46,376.20 L155.43,376.38 L156.41,376.55 L157.38,376.69 L158.35,376.82 L159.33,376.93 L160.30,377.02 L161.27,377.08 L162.25,377.13 L163.22,377.15 L164.19,377.16 L165.16,377.14 L166.14,377.09 L167.11,377.02 L168.08,376.93 L169.06,376.81 L170.03,376.67 L171.00,376.51 L171.98,376.32 L172.95,376.10 L173.92,375.86 L174.90,375.59 L175.87,375.30 L176.84,374.99 L177.82,374.64 L178.79,374.28 L179.76,373.89 L180.73,373.48 L181.71,373.04 L182.68,372.58 L183.65,372.10 L184.63,371.59 L185.60,371.07 L186.57,370.52 L187.55,369.95 L188.52,369.37 L189.49,368.77 L190.47,368.15 L191.44,367.51 L192.41,366.86 L193.39,366.20 L194.36,365.52 L195.33,364.83 L196.30,364.13 L197.28,363.42 L198.25,362.70 L199.22,361.98 L200.20,361.25 L201.17,360.51 L202.14,359.78 L203.12,359.04 L204.09,358.30 L205.06,357.56 L206.04,356.82 L207.01,356.08 L207.98,355.35 L208.96,354.63 L209.93,353.92 L210.90,353.21 L211.87,352.52 L212.85,351.83 L213.82,351.16 L214.79,350.51 L215.77,349.87 L216.74,349.25 L217.71,348.65 L218.69,348.07 L219.66,347.51 L220.63,346.98 L221.61,346.47 L222.58,345.98 L223.55,345.52 L224.53,345.09 L225.50,344.69 L226.47,344.32 L227.44,343.98 L228.42,343.68 L229.39,343.40 L230.36,343.16 L231.34,342.95 L232.31,342.78 L233.28,342.65 L234.26,342.54 L235.23,342.48 L236.20,342.45 L237.18,342.45 L238.15,342.49 L239.12,342.56 L240.10,342.67 L241.07,342.82 L242.04,343.00 L243.01,343.21 L243.99,343.45 L244.96,343.73 L245.93,344.04 L246.91,344.38 L247.88,344.75 L248.85,345.14 L249.83,345.57 L250.80,346.02 L251.77,346.50 L252.75,347.00 L253.72,347.53 L254.69,348.07 L255.67,348.64 L256.64,349.23 L257.61,349.84 L258.58,350.47 L259.56,351.11 L260.53,351.77 L261.50,352.44 L262.48,353.13 L263.45,353.83 L264.42,354.55 L265.40,355.27 L266.37,356.00 L267.34,356.74 L268.32,357.49 L269.29,358.25 L270.26,359.01 L271.24,359.78 L272.21,360.55 L273.18,361.33 L274.15,362.10 L275.13,362.88 L276.10,363.66 L277.07,364.45 L278.05,365.23 L279.02,366.00 L279.99,366.78 L280.97,367.56 L281.94,368.33 L282.91,369.09 L283.89,369.86 L284.86,370.61 L285.83,371.36 L286.80,372.11 L287.78,372.85 L288.75,373.58 L289.72,374.30 L290.70,375.01 L291.67,375.72 L292.64,376.42 L293.62,377.10 L294.59,377.78 L295.56,378.45 L296.54,379.10 L297.51,379.75 L298.48,380.39 L299.46,381.01 L300.43,381.62 L301.40,382.22 L302.37,382.82 L303.35,383.39 L304.32,383.96 L305.29,384.52 L306.27,385.07 L307.24,385.60 L308.21,386.12 L309.19,386.64 L310.16,387.14 L311.13,387.63 L312.11,388.12 L313.08,388.59 L314.05,389.05 L315.03,389.50 L316.00,389.95 L316.97,390.38 L317.94,390.81 L318.92,391.23 L319.89,391.64 L320.86,392.05 L321.84,392.45 L322.81,392.84 L323.78,393.23 L324.76,393.61 L325.73,393.98 L326.70,394.35 L327.68,394.71 L328.65,395.07 L329.62,395.43 L330.60,395.78 L331.57,396.13 L332.54,396.47 L333.51,396.81 L334.49,397.15 L335.46,397.49 L336.43,397.82 L337.41,398.15 L338.38,398.48 L339.35,398.81 L340.33,399.13 L341.30,399.45 L342.27,399.77 L343.25,400.09 L344.22,400.40 L345.19,400.71 L346.17,401.02 L347.14,401.33 L348.11,401.64 L349.08,401.94 L350.06,402.24 L351.03,402.53 L352.00,402.83 L352.98,403.12 L353.95,403.40 L354.92,403.68 L355.90,403.96 L356.87,404.23 L357.84,404.49 L358.82,404.75 L359.79,405.00 L360.76,405.25 L361.74,405.49 L362.71,405.72 L363.68,405.95 L364.65,406.17 L365.63,406.38 L366.60,406.58 L367.57,406.77 L368.55,406.95 L369.52,407.13 L370.49,407.30 L371.47,407.46 L372.44,407.61 L373.41,407.75 L374.39,407.89 L375.36,408.03 L376.33,408.15 L377.31,408.28 L378.28,408.41 L379.25,408.53 L380.22,408.66 L381.20,408.79 L382.17,408.93 L383.14,409.08 L384.12,409.24 L385.09,409.42 L386.06,409.61 L387.04,409.82 L388.01,410.05 L388.98,410.30 L389.96,410.58 L390.93,410.89 L391.90,411.23 L392.88,411.59 L393.85,411.99 L394.82,412.41 L395.79,412.86 L396.77,413.35 L397.74,413.86 L398.71,414.40 L399.69,414.96 L400.66,415.55 L401.63,416.16"/>
<path d="M91.21,351.06 L92.18,351.60 L93.15,352.14 L94.13,352.68 L95.10,353.21 L96.07,353.74 L97.05,354.27 L98.02,354.80 L98.99,355.33 L99.97,355.86 L100.94,356.38 L101.91,356.90 L102.89,357.42 L103.86,357.94 L104.83,358.45 L105.80,358.96 L106.78,359.47 L107.75,359.97 L108.72,360.48 L109.70,360.98 L110.67,361.47 L111.64,361.96 L112.62,362.45 L113.59,362.94 L114.56,363.42 L115.54,363.89 L116.51,364.37 L117.48,364.83 L118.45,365.29 L119.43,365.75 L120.40,366.20 L121.37,366.65 L122.35,367.08 L123.32,367.52 L124.29,367.94 L125.27,368.36 L126.24,368.77 L127.21,369.17 L128.19,369.56 L129.16,369.95 L130.13,370.32 L131.11,370.69 L132.08,371.04 L133.05,371.39 L134.02,371.72 L135.00,372.04 L135.97,372.35 L136.94,372.64 L137.92,372.93 L138.89,373.19 L139.86,373.45 L140.84,373.69 L141.81,373.91 L142.78,374.11 L143.76,374.30 L144.73,374.47 L145.70,374.63 L146.68,374.76 L147.65,374.88 L148.62,374.97 L149.59,375.05 L150.57,375.10 L151.54,375.13 L152.51,375.14 L153.49,375.13 L154.46,375.09 L155.43,375.03 L156.41,374.95 L157.38,374.84 L158.35,374.71 L159.33,374.56 L160.30,374.38 L161.27,374.17 L162.25,373.94 L163.22,373.69 L164.19,373.41 L165.16,373.11 L166.14,372.78 L167.11,372.43 L168.08,372.05 L169.06,371.65 L170.03,371.23 L171.00,370.78 L171.98,370.31 L172.95,369.82 L173.92,369.31 L174.90,368.78 L175.87,368.24 L176.84,367.67 L177.82,367.08 L178.79,366.48 L179.76,365.87 L180.73,365.23 L181.71,364.59 L182.68,363.93 L183.65,363.26 L184.63,362.59 L185.60,361.90 L186.57,361.21 L187.55,360.51 L188.52,359.80 L189.49,359.09 L190.47,358.38 L191.44,357.67 L192.41,356.95 L193.39,356.25 L194.36,355.54 L195.33,354.84 L196.30,354.14 L197.28,353.45 L198.25,352.77 L199.22,352.11 L200.20,351.45 L201.17,350.81 L202.14,350.18 L203.12,349.57 L204.09,348.98 L205.06,348.40 L206.04,347.85 L207.01,347.32 L207.98,346.81 L208.96,346.32 L209.93,345.87 L210.90,345.44 L211.87,345.03 L212.85,344.66 L213.82,344.32 L214.79,344.01 L215.77,343.73 L216.74,343.48 L217.71,343.27 L218.69,343.09 L219.66,342.94 L220.63,342.83 L221.61,342.75 L222.58,342.71 L223.55,342.71 L224.53,342.73 L225.50,342.80 L226.47,342.90 L227.44,343.03 L228.42,343.20 L229.39,343.40 L230.36,343.63 L231.34,343.90 L232.31,344.19 L233.28,344.52 L234.26,344.87 L235.23,345.26 L236.20,345.67 L237.18,346.11 L238.15,346.58 L239.12,347.07 L240.10,347.58 L241.07,348.12 L242.04,348.67 L243.01,349.25 L243.99,349.85 L244.96,350.46 L245.93,351.09 L246.91,351.74 L247.88,352.40 L248.85,353.08 L249.83,353.77 L250.80,354.47 L251.77,355.18 L252.75,355.90 L253.72,356.63 L254.69,357.37 L255.67,358.11 L256.64,358.86 L257.61,359.62 L258.58,360.38 L259.56,361.14 L260.53,361.91 L261.50,362.68 L262.48,363.45 L263.45,364.22 L264.42,364.98 L265.40,365.75 L266.37,366.52 L267.34,367.28 L268.32,368.04 L269.29,368.79 L270.26,369.54 L271.24,370.29 L272.21,371.03 L273.18,371.77 L274.15,372.49 L275.13,373.21 L276.10,373.93 L277.07,374.63 L278.05,375.33 L279.02,376.02 L279.99,376.70 L280.97,377.37 L281.94,378.03 L282.91,378.68 L283.89,379.32 L284.86,379.95 L285.83,380.57 L286.80,381.18 L287.78,381.78 L288.75,382.38 L289.72,382.96 L290.70,383.53 L291.67,384.09 L292.64,384.64 L293.62,385.18 L294.59,385.71 L295.56,386.23 L296.54,386.74 L297.51,387.24 L298.48,387.73 L299.46,388.22 L300.43,388.70 L301.40,389.17 L302.37,389.63 L303.35,390.08 L304.32,390.53 L305.29,390.97 L306.27,391.41 L307.24,391.84 L308.21,392.26 L309.19,392.68 L310.16,393.09 L311.13,393.50 L312.11,393.91 L313.08,394.31 L314.05,394.71 L315.03,395.10 L316.00,395.50 L316.97,395.89 L317.94,396.28 L318.92,396.66 L319.89,397.05 L320.86,397.43 L321.84,397.81 L322.81,398.20 L323.78,398.58 L324.76,398.96 L325.73,399.34 L326.70,399.72 L327.68,400.10 L328.65,400.48 L329.62,400.86 L330.60,401.24 L331.57,401.62 L332.54,402.00 L333.51,402.39 L334.49,402.77 L335.46,403.15 L336.43,403.54 L337.41,403.92 L338.38,404.31 L339.35,404.69 L340.33,405.08 L341.30,405.46 L342.27,405.85 L343.25,406.23 L344.22,406.62 L345.19,407.00 L346.17,407.39 L347.14,407.77 L348.11,408.16 L349.08,408.54 L350.06,408.92 L351.03,409.30 L352.00,409.68 L352.98,410.05 L353.95,410.43 L354.92,410.80 L355.90,411.16 L356.87,411.53 L357.84,411.89 L358.82,412.24 L359.79,412.60 L360.76,412.94 L361.74,413.28 L362.71,413.62 L363.68,413.95 L364.65,414.28 L365.63,414.59 L366.60,414.91 L367.57,415.21 L368.55,415.51 L369.52,415.80 L370.49,416.08 L371.47,416.36 L372.44,416.63 L373.41,416.90 L374.39,417.16 L375.36,417.41 L376.33,417.66 L377.31,417.90 L378.28,418.15 L379.25,418.39 L380.22,418.63 L381.20,418.88 L382.17,419.13 L383.14,419.38 L384.12,419.64 L385.09,419.91 L386.06,420.20 L387.04,420.49 L388.01,420.81 L388.98,421.14 L389.96,421.48 L390.93,421.85 L391.90,422.24 L392.88,422.65 L393.85,423.09 L394.82,423.54 L395.79,424.02 L396.77,424.53 L397.74,425.05 L398.71,425.59 L399.69,426.16 L400.66,426.74 L401.63,427.34"/>
<path d="M91.21,355.40 L92.18,355.91 L93.15,356.42 L94.13,356.93 L95.10,357.44 L96.07,357.94 L97.05,358.44 L98.02,358.93 L98.99,359.43 L99.97,359.91 L100.94,360.40 L101.91,360.88 L102.89,361.36 L103.86,361.83 L104.83,362.30 L105.80,362.76 L106.78,363.22 L107.75,363.67 L108.72,364.12 L109.70,364.56 L110.67,364.99 L111.64,365.42 L112.62,365.84 L113.59,366.25 L114.56,366.65 L115.54,367.05 L116.51,367.44 L117.48,367.81 L118.45,368.18 L119.43,368.54 L120.40,368.89 L121.37,369.23 L122.35,369.55 L123.32,369.86 L124.29,370.16 L125.27,370.45 L126.24,370.72 L127.21,370.98 L128.19,371.23 L129.16,371.45 L130.13,371.67 L131.11,371.86 L132.08,372.04 L133.05,372.20 L134.02,372.34 L135.00,372.46 L135.97,372.57 L136.94,372.65 L137.92,372.71 L138.89,372.75 L139.86,372.77 L140.84,372.77 L141.81,372.74 L142.78,372.70 L143.76,372.62 L144.73,372.53 L145.70,372.41 L146.68,372.27 L147.65,372.10 L148.62,371.91 L149.59,371.69 L150.57,371.45 L151.54,371.18 L152.51,370.90 L153.49,370.58 L154.46,370.24 L155.43,369.88 L156.41,369.50 L157.38,369.09 L158.35,368.67 L159.33,368.22 L160.30,367.74 L161.27,367.25 L162.25,366.74 L163.22,366.21 L164.19,365.67 L165.16,365.10 L166.14,364.52 L167.11,363.93 L168.08,363.32 L169.06,362.70 L170.03,362.07 L171.00,361.43 L171.98,360.77 L172.95,360.11 L173.92,359.45 L174.90,358.78 L175.87,358.10 L176.84,357.43 L177.82,356.75 L178.79,356.07 L179.76,355.39 L180.73,354.72 L181.71,354.05 L182.68,353.39 L183.65,352.74 L184.63,352.09 L185.60,351.46 L186.57,350.83 L187.55,350.23 L188.52,349.63 L189.49,349.06 L190.47,348.50 L191.44,347.96 L192.41,347.44 L193.39,346.95 L194.36,346.47 L195.33,346.03 L196.30,345.61 L197.28,345.21 L198.25,344.85 L199.22,344.51 L200.20,344.21 L201.17,343.93 L202.14,343.69 L203.12,343.48 L204.09,343.30 L205.06,343.16 L206.04,343.05 L207.01,342.98 L207.98,342.94 L208.96,342.93 L209.93,342.97 L210.90,343.03 L211.87,343.13 L212.85,343.26 L213.82,343.43 L214.79,343.63 L215.77,343.86 L216.74,344.12 L217.71,344.42 L218.69,344.74 L219.66,345.10 L220.63,345.48 L221.61,345.89 L222.58,346.33 L223.55,346.79 L224.53,347.28 L225.50,347.79 L226.47,348.32 L227.44,348.88 L228.42,349.45 L229.39,350.05 L230.36,350.66 L231.34,351.29 L232.31,351.93 L233.28,352.59 L234.26,353.26 L235.23,353.95 L236.20,354.65 L237.18,355.36 L238.15,356.08 L239.12,356.80 L240.10,357.54 L241.07,358.28 L242.04,359.03 L243.01,359.78 L243.99,360.54 L244.96,361.30 L245.93,362.07 L246.91,362.83 L247.88,363.60 L248.85,364.36 L249.83,365.13 L250.80,365.90 L251.77,366.66 L252.75,367.42 L253.72,368.18 L254.69,368.93 L255.67,369.68 L256.64,370.43 L257.61,371.17 L258.58,371.90 L259.56,372.63 L260.53,373.35 L261.50,374.06 L262.48,374.77 L263.45,375.47 L264.42,376.15 L265.40,376.84 L266.37,377.51 L267.34,378.17 L268.32,378.82 L269.29,379.46 L270.26,380.10 L271.24,380.72 L272.21,381.34 L273.18,381.94 L274.15,382.53 L275.13,383.12 L276.10,383.69 L277.07,384.25 L278.05,384.81 L279.02,385.35 L279.99,385.89 L280.97,386.41 L281.94,386.93 L282.91,387.44 L283.89,387.94 L284.86,388.43 L285.83,388.92 L286.80,389.39 L287.78,389.86 L288.75,390.32 L289.72,390.78 L290.70,391.23 L291.67,391.67 L292.64,392.11 L293.62,392.54 L294.59,392.97 L295.56,393.39 L296.54,393.81 L297.51,394.23 L298.48,394.64 L299.46,395.05 L300.43,395.45 L301.40,395.86 L302.37,396.26 L303.35,396.66 L304.32,397.05 L305.29,397.45 L306.27,397.85 L307.24,398.24 L308.21,398.64 L309.19,399.03 L310.16,399.43 L311.13,399.82 L312.11,400.21 L313.08,400.61 L314.05,401.01 L315.03,401.40 L316.00,401.80 L316.97,402.20 L317.94,402.60 L318.92,403.00 L319.89,403.40 L320.86,403.81 L321.84,404.21 L322.81,404.62 L323.78,405.03 L324.76,405.44 L325.73,405.85 L326.70,406.26 L327.68,406.67 L328.65,407.09 L329.62,407.51 L330.60,407.93 L331.57,408.35 L332.54,408.77 L333.51,409.19 L334.49,409.62 L335.46,410.04 L336.43,410.47 L337.41,410.90 L338.38,411.33 L339.35,411.76 L340.33,412.19 L341.30,412.62 L342.27,413.05 L343.25,413.48 L344.22,413.91 L345.19,414.34 L346.17,414.77 L347.14,415.20 L348.11,415.63 L349.08,416.06 L350.06,416.49 L351.03,416.91 L352.00,417.34 L352.98,417.76 L353.95,418.18 L354.92,418.60 L355.90,419.01 L356.87,419.43 L357.84,419.84 L358.82,420.24 L359.79,420.64 L360.76,421.04 L361.74,421.43 L362.71,421.82 L363.68,422.20 L364.65,422.57 L365.63,422.94 L366.60,423.31 L367.57,423.67 L368.55,424.02 L369.52,424.37 L370.49,424.70 L371.47,425.04 L372.44,425.36 L373.41,425.69 L374.39,426.00 L375.36,426.31 L376.33,426.62 L377.31,426.92 L378.28,427.22 L379.25,427.52 L380.22,427.81 L381.20,428.11 L382.17,428.41 L383.14,428.72 L384.12,429.03 L385.09,429.35 L386.06,429.68 L387.04,430.02 L388.01,430.37 L388.98,430.73 L389.96,431.11 L390.93,431.51 L391.90,431.93 L392.88,432.36 L393.85,432.82 L394.82,433.29 L395.79,433.78 L396.77,434.29 L397.74,434.82 L398.71,435.37 L399.69,435.94 L400.66,436.52 L401.63,437.11"/>
<path d="M91.21,359.19 L92.18,359.65 L93.15,360.10 L94.13,360.56 L95.10,361.00 L96.07,361.44 L97.05,361.87 L98.02,362.30 L98.99,362.72 L99.97,363.13 L100.94,363.53 L101.91,363.93 L102.89,364.32 L103.86,364.69 L104.83,365.06 L105.80,365.42 L106.78,365.77 L107.75,366.10 L108.72,366.43 L109.70,366.74 L110.67,367.04 L111.64,367.33 L112.62,367.60 L113.59,367.86 L114.56,368.10 L115.54,368.33 L116.51,368.54 L117.48,368.74 L118.45,368.92 L119.43,369.08 L120.40,369.22 L121.37,369.34 L122.35,369.45 L123.32,369.53 L124.29,369.59 L125.27,369.64 L126.24,369.66 L127.21,369.66 L128.19,369.64 L129.16,369.59 L130.13,369.52 L131.11,369.43 L132.08,369.32 L133.05,369.18 L134.02,369.02 L135.00,368.83 L135.97,368.62 L136.94,368.39 L137.92,368.13 L138.89,367.85 L139.86,367.55 L140.84,367.22 L141.81,366.87 L142.78,366.50 L143.76,366.11 L144.73,365.69 L145.70,365.26 L146.68,364.80 L147.65,364.33 L148.62,363.84 L149.59,363.33 L150.57,362.81 L151.54,362.27 L152.51,361.71 L153.49,361.14 L154.46,360.57 L155.43,359.98 L156.41,359.38 L157.38,358.77 L158.35,358.15 L159.33,357.53 L160.30,356.91 L161.27,356.28 L162.25,355.65 L163.22,355.02 L164.19,354.39 L165.16,353.77 L166.14,353.15 L167.11,352.53 L168.08,351.92 L169.06,351.33 L170.03,350.74 L171.00,350.17 L171.98,349.60 L172.95,349.06 L173.92,348.53 L174.90,348.02 L175.87,347.53 L176.84,347.06 L177.82,346.61 L178.79,346.18 L179.76,345.79 L180.73,345.41 L181.71,345.07 L182.68,344.75 L183.65,344.46 L184.63,344.20 L185.60,343.98 L186.57,343.78 L187.55,343.62 L188.52,343.49 L189.49,343.39 L190.47,343.33 L191.44,343.30 L192.41,343.30 L193.39,343.34 L194.36,343.41 L195.33,343.52 L196.30,343.66 L197.28,343.83 L198.25,344.03 L199.22,344.27 L200.20,344.53 L201.17,344.83 L202.14,345.15 L203.12,345.51 L204.09,345.89 L205.06,346.30 L206.04,346.74 L207.01,347.20 L207.98,347.68 L208.96,348.19 L209.93,348.71 L210.90,349.26 L211.87,349.83 L212.85,350.42 L213.82,351.02 L214.79,351.64 L215.77,352.28 L216.74,352.93 L217.71,353.59 L218.69,354.26 L219.66,354.95 L220.63,355.65 L221.61,356.35 L222.58,357.06 L223.55,357.78 L224.53,358.51 L225.50,359.24 L226.47,359.98 L227.44,360.72 L228.42,361.47 L229.39,362.21 L230.36,362.96 L231.34,363.71 L232.31,364.46 L233.28,365.21 L234.26,365.95 L235.23,366.70 L236.20,367.44 L237.18,368.18 L238.15,368.92 L239.12,369.65 L240.10,370.37 L241.07,371.10 L242.04,371.81 L243.01,372.53 L243.99,373.23 L244.96,373.93 L245.93,374.62 L246.91,375.31 L247.88,375.98 L248.85,376.65 L249.83,377.32 L250.80,377.97 L251.77,378.62 L252.75,379.26 L253.72,379.89 L254.69,380.51 L255.67,381.12 L256.64,381.73 L257.61,382.33 L258.58,382.92 L259.56,383.50 L260.53,384.08 L261.50,384.64 L262.48,385.20 L263.45,385.75 L264.42,386.30 L265.40,386.84 L266.37,387.37 L267.34,387.90 L268.32,388.42 L269.29,388.93 L270.26,389.44 L271.24,389.94 L272.21,390.44 L273.18,390.94 L274.15,391.43 L275.13,391.91 L276.10,392.39 L277.07,392.87 L278.05,393.34 L279.02,393.82 L279.99,394.28 L280.97,394.75 L281.94,395.21 L282.91,395.68 L283.89,396.14 L284.86,396.60 L285.83,397.05 L286.80,397.51 L287.78,397.97 L288.75,398.42 L289.72,398.87 L290.70,399.33 L291.67,399.78 L292.64,400.24 L293.62,400.69 L294.59,401.15 L295.56,401.60 L296.54,402.05 L297.51,402.51 L298.48,402.97 L299.46,403.42 L300.43,403.88 L301.40,404.34 L302.37,404.80 L303.35,405.26 L304.32,405.72 L305.29,406.19 L306.27,406.65 L307.24,407.12 L308.21,407.58 L309.19,408.05 L310.16,408.52 L311.13,408.99 L312.11,409.46 L313.08,409.94 L314.05,410.41 L315.03,410.89 L316.00,411.36 L316.97,411.84 L317.94,412.32 L318.92,412.80 L319.89,413.28 L320.86,413.76 L321.84,414.25 L322.81,414.73 L323.78,415.22 L324.76,415.70 L325.73,416.19 L326.70,416.68 L327.68,417.16 L328.65,417.65 L329.62,418.14 L330.60,418.63 L331.57,419.12 L332.54,419.61 L333.51,420.10 L334.49,420.59 L335.46,421.08 L336.43,421.57 L337.41,422.06 L338.38,422.55 L339.35,423.04 L340.33,423.53 L341.30,424.01 L342.27,424.50 L343.25,424.98 L344.22,425.47 L345.19,425.95 L346.17,426.43 L347.14,426.90 L348.11,427.38 L349.08,427.85 L350.06,428.32 L351.03,428.79 L352.00,429.26 L352.98,429.72 L353.95,430.17 L354.92,430.63 L355.90,431.08 L356.87,431.52 L357.84,431.96 L358.82,432.40 L359.79,432.82 L360.76,433.25 L361.74,433.66 L362.71,434.07 L363.68,434.48 L364.65,434.87 L365.63,435.26 L366.60,435.64 L367.57,436.01 L368.55,436.38 L369.52,436.74 L370.49,437.09 L371.47,437.43 L372.44,437.76 L373.41,438.09 L374.39,438.41 L375.36,438.72 L376.33,439.03 L377.31,439.33 L378.28,439.63 L379.25,439.93 L380.22,440.23 L381.20,440.52 L382.17,440.82 L383.14,441.12 L384.12,441.43 L385.09,441.75 L386.06,442.07 L387.04,442.41 L388.01,442.76 L388.98,443.12 L389.96,443.50 L390.93,443.90 L391.90,444.32 L392.88,444.76 L393.85,445.21 L394.82,445.69 L395.79,446.19 L396.77,446.71 L397.74,447.25 L398.71,447.81 L399.69,448.39 L400.66,448.98 L401.63,449.59"/>
<path d="M91.21,362.33 L92.18,362.68 L93.15,363.02 L94.13,363.35 L95.10,363.67 L96.07,363.97 L97.05,364.27 L98.02,364.54 L98.99,364.81 L99.97,365.06 L100.94,365.30 L101.91,365.52 L102.89,365.72 L103.86,365.91 L104.83,366.07 L105.80,366.23 L106.78,366.36 L107.75,366.47 L108.72,366.57 L109.70,366.64 L110.67,366.70 L111.64,366.73 L112.62,366.74 L113.59,366.73 L114.56,366.70 L115.54,366.64 L116.51,366.57 L117.48,366.47 L118.45,366.34 L119.43,366.20 L120.40,366.03 L121.37,365.84 L122.35,365.62 L123.32,365.38 L124.29,365.12 L125.27,364.84 L126.24,364.53 L127.21,364.20 L128.19,363.86 L129.16,363.49 L130.13,363.10 L131.11,362.69 L132.08,362.26 L133.05,361.81 L134.02,361.35 L135.00,360.87 L135.97,360.37 L136.94,359.86 L137.92,359.34 L138.89,358.81 L139.86,358.26 L140.84,357.71 L141.81,357.14 L142.78,356.58 L143.76,356.00 L144.73,355.42 L145.70,354.84 L146.68,354.26 L147.65,353.67 L148.62,353.09 L149.59,352.52 L150.57,351.94 L151.54,351.38 L152.51,350.82 L153.49,350.27 L154.46,349.73 L155.43,349.21 L156.41,348.70 L157.38,348.21 L158.35,347.73 L159.33,347.27 L160.30,346.83 L161.27,346.42 L162.25,346.02 L163.22,345.65 L164.19,345.31 L165.16,344.99 L166.14,344.70 L167.11,344.44 L168.08,344.21 L169.06,344.01 L170.03,343.84 L171.00,343.70 L171.98,343.59 L172.95,343.52 L173.92,343.48 L174.90,343.47 L175.87,343.49 L176.84,343.55 L177.82,343.64 L178.79,343.76 L179.76,343.92 L180.73,344.11 L181.71,344.32 L182.68,344.57 L183.65,344.85 L184.63,345.16 L185.60,345.50 L186.57,345.87 L187.55,346.26 L188.52,346.68 L189.49,347.12 L190.47,347.59 L191.44,348.08 L192.41,348.59 L193.39,349.12 L194.36,349.67 L195.33,350.24 L196.30,350.83 L197.28,351.44 L198.25,352.06 L199.22,352.70 L200.20,353.34 L201.17,354.01 L202.14,354.68 L203.12,355.36 L204.09,356.06 L205.06,356.76 L206.04,357.47 L207.01,358.18 L207.98,358.91 L208.96,359.63 L209.93,360.37 L210.90,361.10 L211.87,361.84 L212.85,362.58 L213.82,363.32 L214.79,364.07 L215.77,364.81 L216.74,365.55 L217.71,366.30 L218.69,367.04 L219.66,367.78 L220.63,368.51 L221.61,369.25 L222.58,369.98 L223.55,370.70 L224.53,371.43 L225.50,372.15 L226.47,372.86 L227.44,373.57 L228.42,374.27 L229.39,374.97 L230.36,375.66 L231.34,376.34 L232.31,377.02 L233.28,377.70 L234.26,378.37 L235.23,379.03 L236.20,379.68 L237.18,380.33 L238.15,380.97 L239.12,381.61 L240.10,382.24 L241.07,382.86 L242.04,383.48 L243.01,384.09 L243.99,384.70 L244.96,385.30 L245.93,385.89 L246.91,386.48 L247.88,387.06 L248.85,387.64 L249.83,388.21 L250.80,388.78 L251.77,389.35 L252.75,389.91 L253.72,390.46 L254.69,391.01 L255.67,391.56 L256.64,392.11 L257.61,392.65 L258.58,393.19 L259.56,393.72 L260.53,394.25 L261.50,394.78 L262.48,395.31 L263.45,395.84 L264.42,396.36 L265.40,396.88 L266.37,397.40 L267.34,397.92 L268.32,398.44 L269.29,398.96 L270.26,399.47 L271.24,399.99 L272.21,400.50 L273.18,401.02 L274.15,401.53 L275.13,402.04 L276.10,402.55 L277.07,403.07 L278.05,403.58 L279.02,404.09 L279.99,404.60 L280.97,405.12 L281.94,405.63 L282.91,406.14 L283.89,406.65 L284.86,407.17 L285.83,407.68 L286.80,408.19 L287.78,408.71 L288.75,409.22 L289.72,409.74 L290.70,410.26 L291.67,410.77 L292.64,411.29 L293.62,411.81 L294.59,412.33 L295.56,412.85 L296.54,413.37 L297.51,413.89 L298.48,414.41 L299.46,414.93 L300.43,415.45 L301.40,415.97 L302.37,416.50 L303.35,417.02 L304.32,417.54 L305.29,418.07 L306.27,418.59 L307.24,419.12 L308.21,419.65 L309.19,420.17 L310.16,420.70 L311.13,421.23 L312.11,421.75 L313.08,422.28 L314.05,422.81 L315.03,423.34 L316.00,423.87 L316.97,424.40 L317.94,424.92 L318.92,425.45 L319.89,425.98 L320.86,426.51 L321.84,427.04 L322.81,427.57 L323.78,428.10 L324.76,428.63 L325.73,429.15 L326.70,429.68 L327.68,430.21 L328.65,430.73 L329.62,431.26 L330.60,431.79 L331.57,432.31 L332.54,432.83 L333.51,433.36 L334.49,433.88 L335.46,434.40 L336.43,434.92 L337.41,435.44 L338.38,435.95 L339.35,436.47 L340.33,436.98 L341.30,437.49 L342.27,438.00 L343.25,438.51 L344.22,439.01 L345.19,439.51 L346.17,440.01 L347.14,440.51 L348.11,441.00 L349.08,441.49 L350.06,441.97 L351.03,442.45 L352.00,442.93 L352.98,443.40 L353.95,443.87 L354.92,444.33 L355.90,444.79 L356.87,445.24 L357.84,445.68 L358.82,446.12 L359.79,446.55 L360.76,446.98 L361.74,447.39 L362.71,447.80 L363.68,448.20 L364.65,448.59 L365.63,448.97 L366.60,449.34 L367.57,449.71 L368.55,450.06 L369.52,450.41 L370.49,450.74 L371.47,451.07 L372.44,451.39 L373.41,451.70 L374.39,452.00 L375.36,452.29 L376.33,452.58 L377.31,452.86 L378.28,453.14 L379.25,453.41 L380.22,453.68 L381.20,453.96 L382.17,454.23 L383.14,454.51 L384.12,454.80 L385.09,455.09 L386.06,455.40 L387.04,455.72 L388.01,456.05 L388.98,456.40 L389.96,456.77 L390.93,457.15 L391.90,457.56 L392.88,457.99 L393.85,458.45 L394.82,458.92 L395.79,459.42 L396.77,459.94 L397.74,460.48 L398.71,461.05 L399.69,461.63 L400.66,462.24 L401.63,462.86"/>
<path d="M91.21,364.83 L92.18,364.88 L93.15,364.91 L94.13,364.92 L95.10,364.91 L96.07,364.87 L97.05,364.82 L98.02,364.74 L98.99,364.64 L99.97,364.52 L100.94,364.37 L101.91,364.20 L102.89,364.01 L103.86,363.80 L104.83,363.56 L105.80,363.31 L106.78,363.03 L107.75,362.73 L108.72,362.41 L109.70,362.07 L110.67,361.71 L111.64,361.33 L112.62,360.93 L113.59,360.51 L114.56,360.08 L115.54,359.64 L116.51,359.17 L117.48,358.70 L118.45,358.21 L119.43,357.71 L120.40,357.20 L121.37,356.68 L122.35,356.16 L123.32,355.62 L124.29,355.09 L125.27,354.55 L126.24,354.01 L127.21,353.47 L128.19,352.92 L129.16,352.39 L130.13,351.85 L131.11,351.33 L132.08,350.81 L133.05,350.30 L134.02,349.80 L135.00,349.31 L135.97,348.84 L136.94,348.38 L137.92,347.94 L138.89,347.51 L139.86,347.11 L140.84,346.73 L141.81,346.37 L142.78,346.03 L143.76,345.72 L144.73,345.44 L145.70,345.18 L146.68,344.95 L147.65,344.75 L148.62,344.58 L149.59,344.44 L150.57,344.33 L151.54,344.25 L152.51,344.20 L153.49,344.19 L154.46,344.21 L155.43,344.26 L156.41,344.34 L157.38,344.45 L158.35,344.60 L159.33,344.78 L160.30,344.99 L161.27,345.22 L162.25,345.49 L163.22,345.79 L164.19,346.11 L165.16,346.47 L166.14,346.85 L167.11,347.25 L168.08,347.68 L169.06,348.14 L170.03,348.61 L171.00,349.11 L171.98,349.63 L172.95,350.17 L173.92,350.72 L174.90,351.30 L175.87,351.89 L176.84,352.50 L177.82,353.12 L178.79,353.75 L179.76,354.40 L180.73,355.06 L181.71,355.73 L182.68,356.41 L183.65,357.10 L184.63,357.79 L185.60,358.49 L186.57,359.20 L187.55,359.92 L188.52,360.64 L189.49,361.36 L190.47,362.09 L191.44,362.82 L192.41,363.55 L193.39,364.28 L194.36,365.01 L195.33,365.75 L196.30,366.48 L197.28,367.22 L198.25,367.95 L199.22,368.68 L200.20,369.41 L201.17,370.13 L202.14,370.85 L203.12,371.57 L204.09,372.29 L205.06,373.00 L206.04,373.71 L207.01,374.42 L207.98,375.12 L208.96,375.81 L209.93,376.51 L210.90,377.19 L211.87,377.88 L212.85,378.56 L213.82,379.23 L214.79,379.90 L215.77,380.56 L216.74,381.22 L217.71,381.87 L218.69,382.52 L219.66,383.17 L220.63,383.81 L221.61,384.44 L222.58,385.07 L223.55,385.70 L224.53,386.32 L225.50,386.94 L226.47,387.56 L227.44,388.17 L228.42,388.77 L229.39,389.38 L230.36,389.98 L231.34,390.57 L232.31,391.17 L233.28,391.76 L234.26,392.35 L235.23,392.93 L236.20,393.51 L237.18,394.09 L238.15,394.67 L239.12,395.25 L240.10,395.82 L241.07,396.39 L242.04,396.96 L243.01,397.53 L243.99,398.10 L244.96,398.66 L245.93,399.23 L246.91,399.79 L247.88,400.35 L248.85,400.92 L249.83,401.48 L250.80,402.04 L251.77,402.59 L252.75,403.15 L253.72,403.71 L254.69,404.27 L255.67,404.82 L256.64,405.38 L257.61,405.93 L258.58,406.49 L259.56,407.04 L260.53,407.60 L261.50,408.15 L262.48,408.71 L263.45,409.26 L264.42,409.81 L265.40,410.37 L266.37,410.92 L267.34,411.48 L268.32,412.03 L269.29,412.58 L270.26,413.14 L271.24,413.69 L272.21,414.25 L273.18,414.80 L274.15,415.35 L275.13,415.91 L276.10,416.46 L277.07,417.02 L278.05,417.57 L279.02,418.12 L279.99,418.68 L280.97,419.23 L281.94,419.79 L282.91,420.34 L283.89,420.90 L284.86,421.45 L285.83,422.01 L286.80,422.56 L287.78,423.12 L288.75,423.67 L289.72,424.23 L290.70,424.78 L291.67,425.34 L292.64,425.89 L293.62,426.44 L294.59,427.00 L295.56,427.55 L296.54,428.11 L297.51,428.66 L298.48,429.22 L299.46,429.77 L300.43,430.33 L301.40,430.88 L302.37,431.44 L303.35,431.99 L304.32,432.54 L305.29,433.10 L306.27,433.65 L307.24,434.20 L308.21,434.76 L309.19,435.31 L310.16,435.86 L311.13,436.42 L312.11,436.97 L313.08,437.52 L314.05,438.07 L315.03,438.62 L316.00,439.18 L316.97,439.73 L317.94,440.28 L318.92,440.83 L319.89,441.38 L320.86,441.93 L321.84,442.48 L322.81,443.02 L323.78,443.57 L324.76,444.12 L325.73,444.67 L326.70,445.21 L327.68,445.76 L328.65,446.31 L329.62,446.85 L330.60,447.40 L331.57,447.94 L332.54,448.48 L333.51,449.02 L334.49,449.56 L335.46,450.10 L336.43,450.64 L337.41,451.18 L338.38,451.72 L339.35,452.25 L340.33,452.79 L341.30,453.32 L342.27,453.85 L343.25,454.38 L344.22,454.91 L345.19,455.44 L346.17,455.96 L347.14,456.48 L348.11,457.00 L349.08,457.52 L350.06,458.04 L351.03,458.55 L352.00,459.06 L352.98,459.57 L353.95,460.08 L354.92,460.58 L355.90,461.08 L356.87,461.57 L357.84,462.07 L358.82,462.55 L359.79,463.04 L360.76,463.51 L361.74,463.99 L362.71,464.46 L363.68,464.92 L364.65,465.38 L365.63,465.84 L366.60,466.28 L367.57,466.73 L368.55,467.16 L369.52,467.60 L370.49,468.02 L371.47,468.44 L372.44,468.85 L373.41,469.26 L374.39,469.67 L375.36,470.06 L376.33,470.46 L377.31,470.85 L378.28,471.23 L379.25,471.62 L380.22,472.00 L381.20,472.38 L382.17,472.77 L383.14,473.15 L384.12,473.54 L385.09,473.93 L386.06,474.33 L387.04,474.74 L388.01,475.15 L388.98,475.57 L389.96,476.01 L390.93,476.45 L391.90,476.91 L392.88,477.39 L393.85,477.87 L394.82,478.37 L395.79,478.89 L396.77,479.42 L397.74,479.96 L398.71,480.51 L399.69,481.08 L400.66,481.66 L401.63,482.25"/>
<path d="M91.21,357.40 L92.18,357.09 L93.15,356.76 L94.13,356.41 L95.10,356.05 L96.07,355.68 L97.05,355.29 L98.02,354.89 L98.99,354.48 L99.97,354.06 L100.94,353.63 L101.91,353.20 L102.89,352.76 L103.86,352.32 L104.83,351.88 L105.80,351.43 L106.78,350.99 L107.75,350.54 L108.72,350.11 L109.70,349.67 L110.67,349.25 L111.64,348.83 L112.62,348.43 L113.59,348.03 L114.56,347.65 L115.54,347.29 L116.51,346.94 L117.48,346.61 L118.45,346.30 L119.43,346.01 L120.40,345.74 L121.37,345.49 L122.35,345.27 L123.32,345.08 L124.29,344.91 L125.27,344.76 L126.24,344.65 L127.21,344.56 L128.19,344.51 L129.16,344.48 L130.13,344.48 L131.11,344.51 L132.08,344.57 L133.05,344.67 L134.02,344.79 L135.00,344.94 L135.97,345.12 L136.94,345.33 L137.92,345.57 L138.89,345.84 L139.86,346.13 L140.84,346.45 L141.81,346.80 L142.78,347.17 L143.76,347.57 L144.73,347.99 L145.70,348.43 L146.68,348.89 L147.65,349.38 L148.62,349.88 L149.59,350.40 L150.57,350.94 L151.54,351.50 L152.51,352.07 L153.49,352.66 L154.46,353.26 L155.43,353.87 L156.41,354.50 L157.38,355.13 L158.35,355.78 L159.33,356.44 L160.30,357.10 L161.27,357.77 L162.25,358.45 L163.22,359.14 L164.19,359.83 L165.16,360.52 L166.14,361.22 L167.11,361.93 L168.08,362.64 L169.06,363.35 L170.03,364.06 L171.00,364.77 L171.98,365.49 L172.95,366.20 L173.92,366.92 L174.90,367.63 L175.87,368.35 L176.84,369.06 L177.82,369.78 L178.79,370.49 L179.76,371.20 L180.73,371.91 L181.71,372.62 L182.68,373.33 L183.65,374.03 L184.63,374.74 L185.60,375.44 L186.57,376.13 L187.55,376.83 L188.52,377.52 L189.49,378.21 L190.47,378.90 L191.44,379.59 L192.41,380.27 L193.39,380.95 L194.36,381.63 L195.33,382.30 L196.30,382.97 L197.28,383.64 L198.25,384.31 L199.22,384.97 L200.20,385.64 L201.17,386.30 L202.14,386.95 L203.12,387.61 L204.09,388.26 L205.06,388.91 L206.04,389.56 L207.01,390.21 L207.98,390.85 L208.96,391.50 L209.93,392.14 L210.90,392.78 L211.87,393.41 L212.85,394.05 L213.82,394.68 L214.79,395.32 L215.77,395.95 L216.74,396.58 L217.71,397.20 L218.69,397.83 L219.66,398.45 L220.63,399.08 L221.61,399.70 L222.58,400.32 L223.55,400.94 L224.53,401.56 L225.50,402.18 L226.47,402.79 L227.44,403.41 L228.42,404.02 L229.39,404.64 L230.36,405.25 L231.34,405.86 L232.31,406.47 L233.28,407.08 L234.26,407.69 L235.23,408.30 L236.20,408.91 L237.18,409.51 L238.15,410.12 L239.12,410.72 L240.10,411.33 L241.07,411.93 L242.04,412.53 L243.01,413.13 L243.99,413.73 L244.96,414.33 L245.93,414.93 L246.91,415.53 L247.88,416.13 L248.85,416.73 L249.83,417.32 L250.80,417.92 L251.77,418.51 L252.75,419.11 L253.72,419.70 L254.69,420.30 L255.67,420.89 L256.64,421.48 L257.61,422.07 L258.58,422.66 L259.56,423.25 L260.53,423.84 L261.50,424.43 L262.48,425.02 L263.45,425.61 L264.42,426.19 L265.40,426.78 L266.37,427.36 L267.34,427.95 L268.32,428.53 L269.29,429.12 L270.26,429.70 L271.24,430.28 L272.21,430.87 L273.18,431.45 L274.15,432.03 L275.13,432.61 L276.10,433.19 L277.07,433.77 L278.05,434.35 L279.02,434.92 L279.99,435.50 L280.97,436.08 L281.94,436.65 L282.91,437.23 L283.89,437.80 L284.86,438.38 L285.83,438.95 L286.80,439.53 L287.78,440.10 L288.75,440.67 L289.72,441.24 L290.70,441.82 L291.67,442.39 L292.64,442.96 L293.62,443.53 L294.59,444.10 L295.56,444.67 L296.54,445.23 L297.51,445.80 L298.48,446.37 L299.46,446.94 L300.43,447.50 L301.40,448.07 L302.37,448.63 L303.35,449.20 L304.32,449.76 L305.29,450.33 L306.27,450.89 L307.24,451.45 L308.21,452.02 L309.19,452.58 L310.16,453.14 L311.13,453.70 L312.11,454.26 L313.08,454.82 L314.05,455.38 L315.03,455.94 L316.00,456.50 L316.97,457.06 L317.94,457.62 L318.92,458.18 L319.89,458.74 L320.86,459.29 L321.84,459.85 L322.81,460.41 L323.78,460.96 L324.76,461.52 L325.73,462.08 L326.70,462.63 L327.68,463.19 L328.65,463.74 L329.62,464.29 L330.60,464.85 L331.57,465.40 L332.54,465.96 L333.51,466.51 L334.49,467.06 L335.46,467.61 L336.43,468.16 L337.41,468.72 L338.38,469.27 L339.35,469.82 L340.33,470.37 L341.30,470.92 L342.27,471.47 L343.25,472.02 L344.22,472.57 L345.19,473.12 L346.17,473.67 L347.14,474.22 L348.11,474.77 L349.08,475.31 L350.06,475.86 L351.03,476.41 L352.00,476.96 L352.98,477.50 L353.95,478.05 L354.92,478.60 L355.90,479.14 L356.87,479.69 L357.84,480.24 L358.82,480.78 L359.79,481.33 L360.76,481.87 L361.74,482.42 L362.71,482.96 L363.68,483.51 L364.65,484.05 L365.63,484.60 L366.60,485.14 L367.57,485.69 L368.55,486.23 L369.52,486.77 L370.49,487.32 L371.47,487.86 L372.44,488.40 L373.41,488.95 L374.39,489.49 L375.36,490.03 L376.33,490.58 L377.31,491.12 L378.28,491.66 L379.25,492.20 L380.22,492.74 L381.20,493.29 L382.17,493.83 L383.14,494.37 L384.12,494.91 L385.09,495.45 L386.06,495.99 L387.04,496.53 L388.01,497.07 L388.98,497.61 L389.96,498.15 L390.93,498.69 L391.90,499.23 L392.88,499.77 L393.85,500.31 L394.82,500.85 L395.79,501.39 L396.77,501.93 L397.74,502.47 L398.71,503.01 L399.69,503.55 L400.66,504.09 L401.63,504.63"/>
<path d="M91.21,347.43 L92.18,347.16 L93.15,346.90 L94.13,346.65 L95.10,346.41 L96.07,346.18 L97.05,345.97 L98.02,345.76 L98.99,345.58 L99.97,345.40 L100.94,345.25 L101.91,345.12 L102.89,345.00 L103.86,344.91 L104.83,344.84 L105.80,344.79 L106.78,344.77 L107.75,344.77 L108.72,344.80 L109.70,344.85 L110.67,344.93 L111.64,345.04 L112.62,345.17 L113.59,345.33 L114.56,345.52 L115.54,345.73 L116.51,345.97 L117.48,346.23 L118.45,346.52 L119.43,346.84 L120.40,347.18 L121.37,347.54 L122.35,347.93 L123.32,348.34 L124.29,348.77 L125.27,349.22 L126.24,349.70 L127.21,350.19 L128.19,350.70 L129.16,351.23 L130.13,351.78 L131.11,352.34 L132.08,352.92 L133.05,353.51 L134.02,354.12 L135.00,354.74 L135.97,355.37 L136.94,356.02 L137.92,356.67 L138.89,357.34 L139.86,358.01 L140.84,358.69 L141.81,359.39 L142.78,360.08 L143.76,360.79 L144.73,361.50 L145.70,362.22 L146.68,362.95 L147.65,363.67 L148.62,364.41 L149.59,365.14 L150.57,365.89 L151.54,366.63 L152.51,367.38 L153.49,368.13 L154.46,368.88 L155.43,369.63 L156.41,370.39 L157.38,371.15 L158.35,371.90 L159.33,372.66 L160.30,373.42 L161.27,374.18 L162.25,374.94 L163.22,375.70 L164.19,376.47 L165.16,377.23 L166.14,377.99 L167.11,378.75 L168.08,379.51 L169.06,380.26 L170.03,381.02 L171.00,381.78 L171.98,382.53 L172.95,383.29 L173.92,384.04 L174.90,384.80 L175.87,385.55 L176.84,386.30 L177.82,387.04 L178.79,387.79 L179.76,388.54 L180.73,389.28 L181.71,390.02 L182.68,390.76 L183.65,391.50 L184.63,392.24 L185.60,392.98 L186.57,393.71 L187.55,394.44 L188.52,395.17 L189.49,395.90 L190.47,396.63 L191.44,397.35 L192.41,398.08 L193.39,398.80 L194.36,399.52 L195.33,400.24 L196.30,400.95 L197.28,401.66 L198.25,402.38 L199.22,403.09 L200.20,403.80 L201.17,404.50 L202.14,405.21 L203.12,405.91 L204.09,406.61 L205.06,407.31 L206.04,408.01 L207.01,408.70 L207.98,409.39 L208.96,410.08 L209.93,410.77 L210.90,411.46 L211.87,412.15 L212.85,412.83 L213.82,413.51 L214.79,414.19 L215.77,414.87 L216.74,415.55 L217.71,416.22 L218.69,416.90 L219.66,417.57 L220.63,418.24 L221.61,418.91 L222.58,419.57 L223.55,420.24 L224.53,420.90 L225.50,421.56 L226.47,422.22 L227.44,422.88 L228.42,423.53 L229.39,424.19 L230.36,424.84 L231.34,425.49 L232.31,426.14 L233.28,426.79 L234.26,427.43 L235.23,428.08 L236.20,428.72 L237.18,429.36 L238.15,430.00 L239.12,430.64 L240.10,431.28 L241.07,431.91 L242.04,432.55 L243.01,433.18 L243.99,433.81 L244.96,434.44 L245.93,435.07 L246.91,435.70 L247.88,436.32 L248.85,436.95 L249.83,437.57 L250.80,438.19 L251.77,438.81 L252.75,439.43 L253.72,440.05 L254.69,440.66 L255.67,441.28 L256.64,441.89 L257.61,442.51 L258.58,443.12 L259.56,443.73 L260.53,444.34 L261.50,444.94 L262.48,445.55 L263.45,446.16 L264.42,446.76 L265.40,447.36 L266.37,447.97 L267.34,448.57 L268.32,449.17 L269.29,449.77 L270.26,450.37 L271.24,450.96 L272.21,451.56 L273.18,452.15 L274.15,452.75 L275.13,453.34 L276.10,453.93 L277.07,454.53 L278.05,455.12 L279.02,455.71 L279.99,456.29 L280.97,456.88 L281.94,457.47 L282.91,458.06 L283.89,458.64 L284.86,459.23 L285.83,459.81 L286.80,460.39 L287.78,460.97 L288.75,461.56 L289.72,462.14 L290.70,462.72 L291.67,463.29 L292.64,463.87 L293.62,464.45 L294.59,465.03 L295.56,465.60 L296.54,466.18 L297.51,466.75 L298.48,467.33 L299.46,467.90 L300.43,468.47 L301.40,469.05 L302.37,469.62 L303.35,470.19 L304.32,470.76 L305.29,471.33 L306.27,471.90 L307.24,472.47 L308.21,473.03 L309.19,473.60 L310.16,474.17 L311.13,474.74 L312.11,475.30 L313.08,475.87 L314.05,476.43 L315.03,477.00 L316.00,477.56 L316.97,478.12 L317.94,478.69 L318.92,479.25 L319.89,479.81 L320.86,480.37 L321.84,480.93 L322.81,481.49 L323.78,482.05 L324.76,482.61 L325.73,483.17 L326.70,483.73 L327.68,484.29 L328.65,484.85 L329.62,485.41 L330.60,485.96 L331.57,486.52 L332.54,487.08 L333.51,487.63 L334.49,488.19 L335.46,488.75 L336.43,489.30 L337.41,489.86 L338.38,490.41 L339.35,490.96 L340.33,491.52 L341.30,492.07 L342.27,492.63 L343.25,493.18 L344.22,493.73 L345.19,494.28 L346.17,494.84 L347.14,495.39 L348.11,495.94 L349.08,496.49 L350.06,497.04 L351.03,497.59 L352.00,498.14 L352.98,498.69 L353.95,499.24 L354.92,499.79 L355.90,500.34 L356.87,500.89 L357.84,501.44 L358.82,501.99 L359.79,502.54 L360.76,503.09 L361.74,503.64 L362.71,504.18 L363.68,504.73 L364.65,505.28 L365.63,505.83 L366.60,506.38 L367.57,506.92 L368.55,507.47 L369.52,508.02 L370.49,508.56 L371.47,509.11 L372.44,509.65 L373.41,510.20 L374.39,510.75 L375.36,511.29 L376.33,511.84 L377.31,512.38 L378.28,512.93 L379.25,513.47 L380.22,514.02 L381.20,514.56 L382.17,515.11 L383.14,515.65 L384.12,516.20 L385.09,516.74 L386.06,517.29 L387.04,517.83 L388.01,518.37 L388.98,518.92 L389.96,519.46 L390.93,520.00 L391.90,520.55 L392.88,521.09 L393.85,521.63 L394.82,522.18 L395.79,522.72 L396.77,523.26 L397.74,523.81 L398.71,524.35 L399.69,524.89 L400.66,525.43 L401.63,525.98"/></g>
<rect x="67.4" y="322.4" width="357.79999999999995" height="209.60000000000002" fill="none" stroke="#000" stroke-width="1.5"/>
<text class="t" transform="translate(67.40,551.1) scale(0.93,1)" text-anchor="middle">-2</text>
<text class="t" transform="translate(107.16,551.1) scale(0.93,1)" text-anchor="middle">-1</text>
<text class="t" transform="translate(147.51,551.1) scale(0.93,1)" text-anchor="middle">0</text>
<text class="t" transform="translate(187.27,551.1) scale(0.93,1)" text-anchor="middle">1</text>
<text class="t" transform="translate(227.02,551.1) scale(0.93,1)" text-anchor="middle">2</text>
<text class="t" transform="translate(266.78,551.1) scale(0.93,1)" text-anchor="middle">3</text>
<text class="t" transform="translate(306.53,551.1) scale(0.93,1)" text-anchor="middle">4</text>
<text class="t" transform="translate(346.29,551.1) scale(0.93,1)" text-anchor="middle">5</text>
<text class="t" transform="translate(386.04,551.1) scale(0.93,1)" text-anchor="middle">6</text>
<text class="t" transform="translate(425.80,551.1) scale(0.93,1)" text-anchor="middle">7</text>
<text class="t" transform="translate(59.2,537.20) scale(0.93,1)" text-anchor="end">-1.5</text>
<text class="t" transform="translate(59.2,502.27) scale(0.93,1)" text-anchor="end">-1</text>
<text class="t" transform="translate(59.2,467.33) scale(0.93,1)" text-anchor="end">-0.5</text>
<text class="t" transform="translate(59.2,432.40) scale(0.93,1)" text-anchor="end">0</text>
<text class="t" transform="translate(59.2,397.47) scale(0.93,1)" text-anchor="end">0.5</text>
<text class="t" transform="translate(59.2,362.53) scale(0.93,1)" text-anchor="end">1</text>
<text class="t" transform="translate(59.2,327.60) scale(0.93,1)" text-anchor="end">1.5</text>
<path d="M67.40,532.0 v-4.0 M67.40,322.4 v4.0 M107.16,532.0 v-4.0 M107.16,322.4 v4.0 M146.91,532.0 v-4.0 M146.91,322.4 v4.0 M186.67,532.0 v-4.0 M186.67,322.4 v4.0 M226.42,532.0 v-4.0 M226.42,322.4 v4.0 M266.18,532.0 v-4.0 M266.18,322.4 v4.0 M305.93,532.0 v-4.0 M305.93,322.4 v4.0 M345.69,532.0 v-4.0 M345.69,322.4 v4.0 M385.44,532.0 v-4.0 M385.44,322.4 v4.0 M425.20,532.0 v-4.0 M425.20,322.4 v4.0 M67.4,532.00 h4.0 M425.2,532.00 h-4.0 M67.4,497.07 h4.0 M425.2,497.07 h-4.0 M67.4,462.13 h4.0 M425.2,462.13 h-4.0 M67.4,427.20 h4.0 M425.2,427.20 h-4.0 M67.4,392.27 h4.0 M425.2,392.27 h-4.0 M67.4,357.33 h4.0 M425.2,357.33 h-4.0 M67.4,322.40 h4.0 M425.2,322.40 h-4.0 " stroke="#000" stroke-width="1.33" fill="none"/>
<text x="202.1" y="295.5" style="font-size:17.7px">log</text><text x="226.29999999999998" y="300.8" style="font-size:12.5px">10</text><text x="241.5" y="295.5" style="font-size:17.7px">[f (Hz)]</text>
<text x="200.1" y="570.7" style="font-size:17.7px">log</text><text x="224.29999999999998" y="576.0" style="font-size:12.5px">10</text><text x="239.5" y="570.7" style="font-size:17.7px">[f (Hz)]</text>
<g transform="translate(27.8,178.7) rotate(-90)"><text x="0" y="0" style="font-size:17.7px">log</text><text x="24.5" y="5.3" style="font-size:12.5px">10</text><text x="39.9" y="0" style="font-size:18.6px">ε</text><text x="47.6" y="-3.6" style="font-size:13px">′</text></g>
<g transform="translate(25.8,453.5) rotate(-90)"><text x="0" y="0" style="font-size:17.7px">log</text><text x="24.5" y="5.3" style="font-size:12.5px">10</text><text x="39.9" y="0" style="font-size:18.6px">ε</text><text x="46.6" y="-3.6" style="font-size:13px">″</text></g>
<text x="365.2" y="71.6" style="font-size:16.3px">56 nm</text>
<text x="365.6" y="341.6" style="font-size:16.3px">56 nm</text>
<text x="86" y="240" style="font-size:20px">(a)</text>
<text x="84" y="515" style="font-size:20px">(b)</text>
<text class="bi" x="265.5" y="90.2">EP−process</text>
<text class="al" transform="translate(329.6,152) scale(1.28,1)">α</text><text class="bi" x="346" y="152">−process</text>
<text class="bi" x="116.5" y="403.5">EP−process</text>
<text class="al" transform="translate(198.6,484.6) scale(1.28,1)">α</text><text class="bi" x="215" y="484.6">−process</text>
<text class="g" x="182.5" y="448">368 K</text>
<text class="g" x="325" y="375.2">417 K</text>
</g>
</svg></body></html>
